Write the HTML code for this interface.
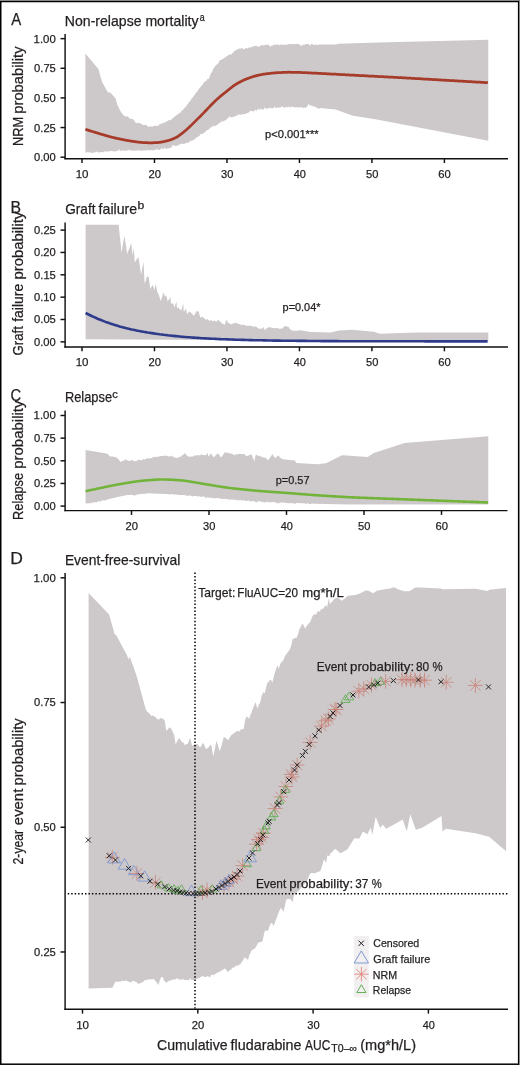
<!DOCTYPE html>
<html><head><meta charset="utf-8"><style>
html,body{margin:0;padding:0;background:#fff;}
svg{display:block;font-family:"Liberation Sans", sans-serif;will-change:transform;}
</style></head><body>
<svg xmlns="http://www.w3.org/2000/svg" width="520" height="1065" viewBox="0 0 520 1065">
<rect x="0" y="0" width="520" height="1065" fill="#fff"/>
<polygon points="85.4,53.5 98.4,69.0 99.4,72.9 102.3,82.5 108.0,92.6 110.4,92.6 115.7,98.8 117.2,104.6 120.5,111.3 124.4,116.2 127.8,116.6 129.7,118.6 132.6,119.0 134.2,120.4 136.2,123.5 137.4,122.4 138.6,123.0 139.9,123.3 141.1,123.8 142.3,124.5 143.6,125.2 144.9,124.8 146.2,125.0 147.4,125.9 148.7,127.1 150.0,126.3 151.2,126.4 152.3,127.0 153.4,125.8 154.6,126.0 155.8,125.5 156.9,125.9 158.1,126.0 159.2,124.5 160.3,124.3 161.5,123.6 162.7,123.2 163.8,122.7 165.1,122.6 166.4,121.6 167.7,121.0 168.9,120.1 170.2,120.2 171.5,119.6 172.8,118.1 174.1,117.3 175.3,115.9 176.6,114.9 177.9,114.2 179.2,113.0 180.4,112.7 181.7,110.4 182.9,110.3 184.2,108.0 185.4,107.2 186.6,105.5 187.8,104.0 189.1,101.9 190.3,100.9 191.5,98.8 192.7,97.6 193.8,95.8 195.0,94.4 196.2,92.6 197.5,91.3 198.7,89.2 200.0,87.6 201.2,86.2 202.3,84.9 203.4,83.5 204.6,81.6 206.0,81.2 207.4,78.9 208.8,78.9 210.0,75.5 211.2,73.0 212.3,71.2 213.5,68.6 214.7,67.0 215.9,65.3 217.2,64.2 218.4,63.3 219.6,60.6 220.8,59.9 222.1,59.5 223.3,58.5 224.6,57.7 225.8,57.1 227.0,56.1 228.2,55.2 229.5,54.6 230.7,54.5 231.9,54.0 233.1,52.2 234.2,51.3 235.3,50.7 236.5,49.4 237.7,49.6 238.8,48.5 240.0,48.7 241.2,48.2 242.5,48.2 243.7,49.6 245.0,48.8 246.3,47.6 247.5,48.8 248.8,47.2 250.0,47.7 251.2,47.2 252.4,46.6 253.6,46.4 254.8,46.1 256.0,45.7 257.2,46.0 258.4,47.2 259.6,46.3 260.8,45.5 262.0,45.0 263.2,45.5 264.4,45.2 265.6,44.8 266.8,44.8 268.0,44.8 269.2,45.1 270.3,47.0 271.5,45.5 272.6,45.4 273.8,45.0 274.9,44.6 276.1,44.8 277.2,44.5 278.4,44.4 279.6,45.6 280.7,44.4 281.9,44.4 283.0,44.7 284.2,44.9 285.3,44.4 286.5,44.9 287.6,44.2 288.8,43.9 290.0,43.9 291.1,44.1 292.3,44.2 293.4,44.0 294.5,43.8 295.6,44.5 296.7,43.8 297.8,43.9 298.9,44.2 300.1,44.8 301.2,46.0 302.3,45.2 303.4,44.6 304.5,45.0 305.6,44.0 306.7,44.3 307.8,44.1 308.9,44.1 310.0,45.9 311.1,44.0 312.2,44.3 313.4,44.6 314.5,45.2 315.6,44.2 316.7,44.9 317.8,45.0 318.9,44.6 320.0,44.5 335.6,44.5 339.0,43.8 378.8,42.5 488.3,39.7 488.3,140.8 375.4,119.3 352.9,115.8 335.6,109.6 320.0,108.0 319.0,109.0 318.1,108.3 317.1,108.2 316.2,107.6 315.2,106.4 314.2,107.1 313.3,105.8 312.3,106.3 311.4,105.5 310.4,105.2 309.5,105.4 308.5,103.6 307.4,106.4 306.2,107.5 305.3,107.8 304.3,107.4 303.4,107.7 302.5,107.8 301.6,107.4 300.6,107.1 299.7,107.3 298.8,107.5 297.9,107.5 296.9,107.0 296.0,107.6 295.1,107.6 294.2,107.2 293.2,106.7 292.3,107.0 291.4,106.5 290.5,107.3 289.6,107.4 288.6,106.4 287.7,107.2 286.8,106.8 285.8,107.2 284.9,107.5 284.0,107.4 283.1,107.6 282.1,106.1 281.2,107.3 280.3,107.3 279.4,107.4 278.4,108.0 277.5,107.2 276.6,108.0 275.7,108.1 274.8,106.3 273.8,107.8 272.9,108.2 272.0,108.3 271.1,108.2 270.1,107.5 269.2,108.0 268.3,108.4 267.4,108.6 266.4,108.5 265.5,108.8 264.6,107.0 263.7,109.4 262.8,109.4 261.8,109.7 260.9,108.2 260.0,109.7 259.1,109.8 258.2,108.7 257.2,109.9 256.3,110.7 255.4,109.6 254.5,111.0 253.6,110.9 252.6,111.8 251.7,110.9 250.8,110.6 249.9,111.5 249.0,112.1 248.0,113.3 247.1,113.0 246.2,113.3 245.2,113.9 244.1,114.1 243.1,114.4 242.1,114.1 241.0,114.7 240.0,114.8 239.1,114.6 238.2,114.2 237.3,115.8 236.4,115.8 235.5,115.8 234.6,116.5 233.7,116.8 232.8,117.1 231.9,117.2 231.0,117.3 230.1,117.6 229.2,116.0 228.1,118.5 227.1,118.6 226.1,120.5 225.0,120.0 224.1,121.4 223.2,121.2 222.3,121.3 221.4,121.5 220.5,122.5 219.6,122.8 218.7,123.5 217.7,124.5 216.8,125.1 215.8,125.8 214.8,126.0 213.9,126.2 212.9,125.4 211.9,127.2 210.9,127.2 210.0,128.1 209.1,129.3 208.1,129.7 207.1,130.3 206.1,131.1 205.2,132.1 204.2,132.6 203.2,133.4 202.3,133.9 201.3,134.2 200.4,134.1 199.4,135.9 198.4,136.2 197.5,137.5 196.5,137.3 195.6,138.6 194.6,139.3 193.6,139.9 192.7,140.2 191.7,140.9 190.8,140.6 189.8,141.4 188.8,142.6 187.9,142.8 186.9,142.7 185.9,143.3 185.0,143.5 184.0,144.0 183.1,143.9 182.1,143.4 181.2,143.7 180.2,144.3 179.2,144.8 178.3,145.4 177.3,145.6 176.4,145.9 175.4,146.0 174.4,145.5 173.3,145.6 172.3,145.3 171.3,147.8 170.2,148.0 169.2,148.0 168.2,148.8 167.3,148.5 166.3,149.1 165.4,148.7 164.4,147.2 163.4,149.5 162.5,149.1 161.5,147.8 160.6,149.5 159.6,150.0 158.6,149.8 157.7,149.5 156.7,149.0 155.8,149.8 154.8,150.0 153.8,150.3 152.9,150.5 151.9,150.0 151.0,150.3 150.0,150.6 149.1,149.7 148.1,150.6 147.2,149.8 146.2,150.6 145.3,150.4 144.3,150.4 143.4,150.6 142.4,150.8 141.5,150.7 140.5,150.4 139.6,150.4 138.6,150.5 137.7,149.9 136.8,150.7 135.8,150.8 134.9,150.4 133.9,150.5 133.0,150.8 132.1,150.8 131.1,150.4 130.2,150.2 129.2,150.3 128.3,149.6 127.3,150.9 126.4,150.1 125.5,150.9 124.5,151.0 123.6,150.3 122.6,150.4 121.7,150.6 120.8,151.1 119.8,151.0 118.9,148.7 117.9,150.9 117.0,151.1 116.1,151.0 115.1,151.4 114.2,151.5 113.3,151.6 112.3,151.0 111.4,151.1 110.5,150.8 109.5,151.4 108.6,151.3 107.7,151.5 106.7,152.0 105.8,151.1 104.9,151.3 103.9,152.3 103.0,152.3 102.1,152.0 101.1,152.1 100.2,152.6 99.3,152.1 98.4,152.7 97.4,151.8 96.5,151.4 95.6,152.7 94.7,151.5 93.7,152.8 92.8,152.9 91.9,153.0 91.0,152.5 90.0,152.0 89.1,152.9 88.2,151.6 87.3,152.6 86.3,152.5 85.4,153.0" fill="#cdc9ca"/>
<polyline points="85.4,129.3 85.9,129.5 86.4,129.6 86.9,129.8 87.4,129.9 87.9,130.1 88.4,130.3 88.9,130.4 89.4,130.6 89.9,130.7 90.4,130.9 90.9,131.0 91.4,131.2 91.9,131.4 92.4,131.5 92.9,131.7 93.4,131.8 93.9,132.0 94.4,132.1 94.9,132.3 95.4,132.4 95.9,132.6 96.4,132.7 96.9,132.9 97.4,133.0 97.9,133.2 98.4,133.3 98.9,133.5 99.4,133.7 99.9,133.8 100.4,134.0 100.9,134.1 101.4,134.3 101.9,134.4 102.4,134.5 102.9,134.7 103.4,134.8 103.9,135.0 104.4,135.1 104.9,135.3 105.4,135.4 105.9,135.6 106.4,135.7 106.9,135.8 107.4,136.0 107.9,136.1 108.4,136.3 108.9,136.4 109.4,136.5 109.9,136.7 110.4,136.8 110.9,137.0 111.4,137.1 111.9,137.2 112.4,137.3 112.9,137.5 113.4,137.6 113.9,137.7 114.4,137.8 114.9,137.9 115.4,138.1 115.9,138.2 116.4,138.3 116.9,138.4 117.4,138.5 117.9,138.6 118.4,138.7 118.9,138.8 119.4,138.9 119.9,139.0 120.4,139.1 120.9,139.2 121.4,139.3 121.9,139.4 122.4,139.5 122.9,139.6 123.4,139.7 123.9,139.8 124.4,139.9 124.9,140.0 125.4,140.1 125.9,140.2 126.4,140.3 126.9,140.4 127.4,140.5 127.9,140.6 128.4,140.6 128.9,140.7 129.4,140.8 129.9,140.9 130.4,141.0 130.9,141.1 131.4,141.1 131.9,141.2 132.4,141.3 132.9,141.4 133.4,141.4 133.9,141.5 134.4,141.6 134.9,141.6 135.4,141.7 135.9,141.8 136.4,141.8 136.9,141.9 137.4,142.0 137.9,142.0 138.4,142.1 138.9,142.1 139.4,142.2 139.9,142.3 140.4,142.3 140.9,142.4 141.4,142.4 141.9,142.4 142.4,142.5 142.9,142.5 143.4,142.5 143.9,142.6 144.4,142.6 144.9,142.6 145.4,142.7 145.9,142.7 146.4,142.7 146.9,142.7 147.4,142.7 147.9,142.8 148.4,142.8 148.9,142.8 149.4,142.8 149.9,142.8 150.4,142.8 150.9,142.8 151.4,142.8 151.9,142.8 152.4,142.8 152.9,142.8 153.4,142.7 153.9,142.7 154.4,142.7 154.9,142.7 155.4,142.6 155.9,142.6 156.4,142.6 156.9,142.5 157.4,142.5 157.9,142.5 158.4,142.4 158.9,142.4 159.4,142.3 159.9,142.3 160.4,142.2 160.9,142.1 161.4,142.1 161.9,142.0 162.4,141.9 162.9,141.8 163.4,141.7 163.9,141.6 164.4,141.5 164.9,141.3 165.4,141.2 165.9,141.1 166.4,141.0 166.9,140.9 167.4,140.7 167.9,140.6 168.4,140.5 168.9,140.3 169.4,140.2 169.9,140.0 170.4,139.9 170.9,139.7 171.4,139.5 171.9,139.3 172.4,139.1 172.9,138.9 173.4,138.7 173.9,138.5 174.4,138.3 174.9,138.0 175.4,137.8 175.9,137.5 176.4,137.3 176.9,137.0 177.4,136.7 177.9,136.4 178.4,136.0 178.9,135.7 179.4,135.3 179.9,135.0 180.4,134.6 180.9,134.2 181.4,133.8 181.9,133.5 182.4,133.1 182.9,132.7 183.4,132.3 183.9,131.9 184.4,131.4 184.9,131.0 185.4,130.6 185.9,130.2 186.4,129.7 186.9,129.3 187.4,128.9 187.9,128.4 188.4,127.9 188.9,127.5 189.4,127.0 189.9,126.5 190.4,126.1 190.9,125.6 191.4,125.1 191.9,124.6 192.4,124.1 192.9,123.6 193.4,123.1 193.9,122.6 194.4,122.1 194.9,121.6 195.4,121.1 195.9,120.6 196.4,120.1 196.9,119.6 197.4,119.1 197.9,118.6 198.4,118.1 198.9,117.6 199.4,117.2 199.9,116.7 200.4,116.2 200.9,115.7 201.4,115.1 201.9,114.6 202.4,114.1 202.9,113.6 203.4,113.1 203.9,112.6 204.4,112.1 204.9,111.5 205.4,111.0 205.9,110.5 206.4,110.0 206.9,109.5 207.4,108.9 207.9,108.4 208.4,107.9 208.9,107.4 209.4,106.9 209.9,106.3 210.4,105.8 210.9,105.3 211.4,104.8 211.9,104.3 212.4,103.8 212.9,103.3 213.4,102.8 213.9,102.3 214.4,101.8 214.9,101.3 215.4,100.8 215.9,100.4 216.4,99.9 216.9,99.4 217.4,99.0 217.9,98.5 218.4,98.1 218.9,97.6 219.4,97.2 219.9,96.8 220.4,96.3 220.9,95.9 221.4,95.5 221.9,95.1 222.4,94.7 222.9,94.3 223.4,93.9 223.9,93.5 224.4,93.1 224.9,92.7 225.4,92.3 225.9,91.9 226.4,91.5 226.9,91.1 227.4,90.7 227.9,90.3 228.4,89.9 228.9,89.5 229.4,89.1 229.9,88.7 230.4,88.3 230.9,87.9 231.4,87.5 231.9,87.1 232.4,86.7 232.9,86.3 233.4,86.0 233.9,85.6 234.4,85.2 234.9,84.9 235.4,84.6 235.9,84.3 236.4,84.0 236.9,83.7 237.4,83.4 237.9,83.1 238.4,82.8 238.9,82.6 239.4,82.3 239.9,82.1 240.4,81.8 240.9,81.5 241.4,81.3 241.9,81.0 242.4,80.8 242.9,80.5 243.4,80.3 243.9,80.0 244.4,79.8 244.9,79.6 245.4,79.4 245.9,79.2 246.4,79.0 246.9,78.8 247.4,78.6 247.9,78.4 248.4,78.2 248.9,78.0 249.4,77.9 249.9,77.7 250.4,77.5 250.9,77.3 251.4,77.2 251.9,77.0 252.4,76.8 252.9,76.7 253.4,76.5 253.9,76.3 254.4,76.2 254.9,76.1 255.4,75.9 255.9,75.8 256.4,75.7 256.9,75.6 257.4,75.4 257.9,75.3 258.4,75.2 258.9,75.1 259.4,75.0 259.9,74.9 260.4,74.8 260.9,74.7 261.4,74.6 261.9,74.5 262.4,74.4 262.9,74.3 263.4,74.2 263.9,74.2 264.4,74.1 264.9,74.0 265.4,73.9 265.9,73.8 266.4,73.8 266.9,73.7 267.4,73.6 267.9,73.6 268.4,73.5 268.9,73.5 269.4,73.4 269.9,73.4 270.4,73.3 270.9,73.3 271.4,73.2 271.9,73.1 272.4,73.1 272.9,73.0 273.4,73.0 273.9,72.9 274.4,72.9 274.9,72.9 275.4,72.8 275.9,72.8 276.4,72.8 276.9,72.7 277.4,72.7 277.9,72.7 278.4,72.6 278.9,72.6 279.4,72.6 279.9,72.6 280.4,72.5 280.9,72.5 281.4,72.5 281.9,72.5 282.4,72.4 282.9,72.4 283.4,72.4 283.9,72.4 284.4,72.3 284.9,72.3 285.4,72.3 285.9,72.3 286.4,72.3 286.9,72.3 287.4,72.3 287.9,72.2 288.4,72.2 288.9,72.2 289.4,72.2 289.9,72.3 290.4,72.3 290.9,72.3 291.4,72.3 291.9,72.3 292.4,72.3 292.9,72.3 293.4,72.3 293.9,72.3 294.4,72.3 294.9,72.3 295.4,72.3 295.9,72.3 296.4,72.3 296.9,72.4 297.4,72.4 297.9,72.4 298.4,72.4 298.9,72.4 299.4,72.4 299.9,72.4 300.4,72.4 300.9,72.5 301.4,72.5 301.9,72.5 302.4,72.5 302.9,72.5 303.4,72.6 303.9,72.6 304.4,72.6 304.9,72.6 305.4,72.7 305.9,72.7 306.4,72.7 306.9,72.7 307.4,72.8 307.9,72.8 308.4,72.8 308.9,72.8 309.4,72.9 309.9,72.9 310.4,72.9 310.9,72.9 311.4,73.0 311.9,73.0 312.4,73.0 312.9,73.0 313.4,73.1 313.9,73.1 314.4,73.1 314.9,73.1 315.4,73.2 315.9,73.2 316.4,73.2 316.9,73.2 317.4,73.3 317.9,73.3 318.4,73.3 318.9,73.3 319.4,73.4 319.9,73.4 320.4,73.4 320.9,73.4 321.4,73.5 321.9,73.5 322.4,73.5 322.9,73.6 323.4,73.6 323.9,73.6 324.4,73.6 324.9,73.7 325.4,73.7 325.9,73.7 326.4,73.7 326.9,73.8 327.4,73.8 327.9,73.8 328.4,73.8 328.9,73.9 329.4,73.9 329.9,73.9 330.4,74.0 330.9,74.0 331.4,74.0 331.9,74.0 332.4,74.1 332.9,74.1 333.4,74.1 333.9,74.1 334.4,74.2 334.9,74.2 335.4,74.2 335.9,74.2 336.4,74.3 336.9,74.3 337.4,74.3 337.9,74.4 338.4,74.4 338.9,74.4 339.4,74.4 339.9,74.5 340.4,74.5 340.9,74.5 341.4,74.5 341.9,74.6 342.4,74.6 342.9,74.6 343.4,74.6 343.9,74.7 344.4,74.7 344.9,74.7 345.4,74.8 345.9,74.8 346.4,74.8 346.9,74.8 347.4,74.9 347.9,74.9 348.4,74.9 348.9,74.9 349.4,75.0 349.9,75.0 350.4,75.0 350.9,75.0 351.4,75.1 351.9,75.1 352.4,75.1 352.9,75.2 353.4,75.2 353.9,75.2 354.4,75.2 354.9,75.3 355.4,75.3 355.9,75.3 356.4,75.3 356.9,75.4 357.4,75.4 357.9,75.4 358.4,75.4 358.9,75.5 359.4,75.5 359.9,75.5 360.4,75.5 360.9,75.6 361.4,75.6 361.9,75.6 362.4,75.6 362.9,75.7 363.4,75.7 363.9,75.7 364.4,75.7 364.9,75.8 365.4,75.8 365.9,75.8 366.4,75.9 366.9,75.9 367.4,75.9 367.9,75.9 368.4,76.0 368.9,76.0 369.4,76.0 369.9,76.0 370.4,76.1 370.9,76.1 371.4,76.1 371.9,76.1 372.4,76.2 372.9,76.2 373.4,76.2 373.9,76.2 374.4,76.3 374.9,76.3 375.4,76.3 375.9,76.3 376.4,76.4 376.9,76.4 377.4,76.4 377.9,76.5 378.4,76.5 378.9,76.5 379.4,76.5 379.9,76.6 380.4,76.6 380.9,76.6 381.4,76.6 381.9,76.7 382.4,76.7 382.9,76.7 383.4,76.7 383.9,76.8 384.4,76.8 384.9,76.8 385.4,76.8 385.9,76.9 386.4,76.9 386.9,76.9 387.4,76.9 387.9,77.0 388.4,77.0 388.9,77.0 389.4,77.0 389.9,77.1 390.4,77.1 390.9,77.1 391.4,77.2 391.9,77.2 392.4,77.2 392.9,77.2 393.4,77.3 393.9,77.3 394.4,77.3 394.9,77.3 395.4,77.4 395.9,77.4 396.4,77.4 396.9,77.4 397.4,77.5 397.9,77.5 398.4,77.5 398.9,77.5 399.4,77.6 399.9,77.6 400.4,77.6 400.9,77.7 401.4,77.7 401.9,77.7 402.4,77.7 402.9,77.8 403.4,77.8 403.9,77.8 404.4,77.9 404.9,77.9 405.4,77.9 405.9,77.9 406.4,78.0 406.9,78.0 407.4,78.0 407.9,78.1 408.4,78.1 408.9,78.1 409.4,78.1 409.9,78.2 410.4,78.2 410.9,78.2 411.4,78.3 411.9,78.3 412.4,78.3 412.9,78.3 413.4,78.4 413.9,78.4 414.4,78.4 414.9,78.5 415.4,78.5 415.9,78.5 416.4,78.5 416.9,78.6 417.4,78.6 417.9,78.6 418.4,78.7 418.9,78.7 419.4,78.7 419.9,78.7 420.4,78.8 420.9,78.8 421.4,78.8 421.9,78.9 422.4,78.9 422.9,78.9 423.4,79.0 423.9,79.0 424.4,79.0 424.9,79.0 425.4,79.1 425.9,79.1 426.4,79.1 426.9,79.2 427.4,79.2 427.9,79.2 428.4,79.2 428.9,79.3 429.4,79.3 429.9,79.3 430.4,79.4 430.9,79.4 431.4,79.4 431.9,79.4 432.4,79.5 432.9,79.5 433.4,79.5 433.9,79.6 434.4,79.6 434.9,79.6 435.4,79.6 435.9,79.7 436.4,79.7 436.9,79.7 437.4,79.8 437.9,79.8 438.4,79.8 438.9,79.8 439.4,79.9 439.9,79.9 440.4,79.9 440.9,80.0 441.4,80.0 441.9,80.0 442.4,80.0 442.9,80.1 443.4,80.1 443.9,80.1 444.4,80.2 444.9,80.2 445.4,80.2 445.9,80.3 446.4,80.3 446.9,80.3 447.4,80.3 447.9,80.4 448.4,80.4 448.9,80.4 449.4,80.5 449.9,80.5 450.4,80.5 450.9,80.5 451.4,80.6 451.9,80.6 452.4,80.6 452.9,80.7 453.4,80.7 453.9,80.7 454.4,80.7 454.9,80.8 455.4,80.8 455.9,80.8 456.4,80.9 456.9,80.9 457.4,80.9 457.9,80.9 458.4,81.0 458.9,81.0 459.4,81.0 459.9,81.1 460.4,81.1 460.9,81.1 461.4,81.1 461.9,81.2 462.4,81.2 462.9,81.2 463.4,81.3 463.9,81.3 464.4,81.3 464.9,81.3 465.4,81.4 465.9,81.4 466.4,81.4 466.9,81.5 467.4,81.5 467.9,81.5 468.4,81.6 468.9,81.6 469.4,81.6 469.9,81.6 470.4,81.7 470.9,81.7 471.4,81.7 471.9,81.8 472.4,81.8 472.9,81.8 473.4,81.8 473.9,81.9 474.4,81.9 474.9,81.9 475.4,82.0 475.9,82.0 476.4,82.0 476.9,82.0 477.4,82.1 477.9,82.1 478.4,82.1 478.9,82.2 479.4,82.2 479.9,82.2 480.4,82.2 480.9,82.3 481.4,82.3 481.9,82.3 482.4,82.4 482.9,82.4 483.4,82.4 483.9,82.4 484.4,82.5 484.9,82.5 485.4,82.5 485.9,82.6 486.4,82.6 486.9,82.6 487.4,82.6 487.9,82.7" fill="none" stroke="#a63b2a" stroke-width="2.75" stroke-linejoin="round"/>
<line x1="65.1" y1="34" x2="65.1" y2="159.35" stroke="#111" stroke-width="1.45"/>
<line x1="64.44999999999999" y1="158.7" x2="508" y2="158.7" stroke="#111" stroke-width="1.45"/>
<line x1="60.49999999999999" y1="38.64999999999999" x2="65.1" y2="38.64999999999999" stroke="#111" stroke-width="1.45"/>
<text x="33.61" y="42.6" text-anchor="start" font-size="11.6" textLength="22.21" lengthAdjust="spacingAndGlyphs" fill="#231f20" stroke="#231f20" stroke-width="0.25">1.00</text>
<line x1="60.49999999999999" y1="68.2875" x2="65.1" y2="68.2875" stroke="#111" stroke-width="1.45"/>
<text x="34.07" y="72.24" text-anchor="start" font-size="11.6" textLength="21.8" lengthAdjust="spacingAndGlyphs" fill="#231f20" stroke="#231f20" stroke-width="0.25">0.75</text>
<line x1="60.49999999999999" y1="97.92499999999998" x2="65.1" y2="97.92499999999998" stroke="#111" stroke-width="1.45"/>
<text x="34.07" y="101.87" text-anchor="start" font-size="11.6" textLength="21.74" lengthAdjust="spacingAndGlyphs" fill="#231f20" stroke="#231f20" stroke-width="0.25">0.50</text>
<line x1="60.49999999999999" y1="127.56249999999999" x2="65.1" y2="127.56249999999999" stroke="#111" stroke-width="1.45"/>
<text x="34.07" y="131.51" text-anchor="start" font-size="11.6" textLength="21.8" lengthAdjust="spacingAndGlyphs" fill="#231f20" stroke="#231f20" stroke-width="0.25">0.25</text>
<line x1="60.49999999999999" y1="157.2" x2="65.1" y2="157.2" stroke="#111" stroke-width="1.45"/>
<text x="34.07" y="161.15" text-anchor="start" font-size="11.6" textLength="21.74" lengthAdjust="spacingAndGlyphs" fill="#231f20" stroke="#231f20" stroke-width="0.25">0.00</text>
<line x1="82.0" y1="158.7" x2="82.0" y2="163.0" stroke="#111" stroke-width="1.45"/>
<text x="75.65" y="177.7" text-anchor="start" font-size="11.6" textLength="12.85" lengthAdjust="spacingAndGlyphs" fill="#231f20" stroke="#231f20" stroke-width="0.25">10</text>
<line x1="154.48000000000002" y1="158.7" x2="154.48000000000002" y2="163.0" stroke="#111" stroke-width="1.45"/>
<text x="148.45" y="177.7" text-anchor="start" font-size="11.6" textLength="12.52" lengthAdjust="spacingAndGlyphs" fill="#231f20" stroke="#231f20" stroke-width="0.25">20</text>
<line x1="226.96" y1="158.7" x2="226.96" y2="163.0" stroke="#111" stroke-width="1.45"/>
<text x="221.08" y="177.7" text-anchor="start" font-size="11.6" textLength="12.37" lengthAdjust="spacingAndGlyphs" fill="#231f20" stroke="#231f20" stroke-width="0.25">30</text>
<line x1="299.44" y1="158.7" x2="299.44" y2="163.0" stroke="#111" stroke-width="1.45"/>
<text x="293.75" y="177.7" text-anchor="start" font-size="11.6" textLength="12.16" lengthAdjust="spacingAndGlyphs" fill="#231f20" stroke="#231f20" stroke-width="0.25">40</text>
<line x1="371.92" y1="158.7" x2="371.92" y2="163.0" stroke="#111" stroke-width="1.45"/>
<text x="366.04" y="177.7" text-anchor="start" font-size="11.6" textLength="12.37" lengthAdjust="spacingAndGlyphs" fill="#231f20" stroke="#231f20" stroke-width="0.25">50</text>
<line x1="444.40000000000003" y1="158.7" x2="444.40000000000003" y2="163.0" stroke="#111" stroke-width="1.45"/>
<text x="438.37" y="177.7" text-anchor="start" font-size="11.6" textLength="12.52" lengthAdjust="spacingAndGlyphs" fill="#231f20" stroke="#231f20" stroke-width="0.25">60</text>
<text x="11.15" y="24.8" text-anchor="start" font-size="16.5" textLength="10.0" lengthAdjust="spacingAndGlyphs" fill="#231f20" stroke="#231f20" stroke-width="0.25">A</text>
<text x="64.86" y="25.7" text-anchor="start" font-size="14.2" textLength="133.69" lengthAdjust="spacingAndGlyphs" fill="#231f20" stroke="#231f20" stroke-width="0.25">Non-relapse mortality</text>
<text x="199.8" y="20.6" text-anchor="start" font-size="10" textLength="4.91" lengthAdjust="spacingAndGlyphs" fill="#231f20" stroke="#231f20" stroke-width="0.25">a</text>
<text transform="translate(22.9,146.04) rotate(-90)" text-anchor="start" font-size="14.2" textLength="29.1" lengthAdjust="spacingAndGlyphs" fill="#231f20" stroke="#231f20" stroke-width="0.25">NRM</text>
<text transform="translate(22.9,113.74) rotate(-90)" text-anchor="start" font-size="14.2" textLength="67.36" lengthAdjust="spacingAndGlyphs" fill="#231f20" stroke="#231f20" stroke-width="0.25">probability</text>
<text x="265.07" y="137.8" text-anchor="start" font-size="10.6" textLength="53.53" lengthAdjust="spacingAndGlyphs" fill="#231f20" stroke="#231f20" stroke-width="0.25">p&lt;0.001***</text>
<polygon points="85.6,224.8 118.7,224.8 119.6,234.2 120.6,243.1 121.5,252.7 122.5,246.7 123.4,241.3 124.4,236.1 125.4,241.9 126.3,247.8 127.3,253.9 128.1,251.6 128.9,249.6 129.7,247.6 130.5,245.0 131.3,242.9 132.5,255.5 133.7,247.8 134.8,262.6 135.7,261.0 136.6,259.6 137.4,258.2 138.3,257.1 139.3,262.4 140.2,269.1 141.2,274.5 142.3,267.7 143.5,261.8 144.6,283.5 145.8,280.5 146.9,276.3 147.8,276.8 148.7,276.9 149.6,283.4 150.4,288.9 151.6,286.7 152.7,285.0 153.6,287.3 154.4,290.5 155.6,283.9 156.4,287.6 157.3,292.3 158.2,293.5 159.1,295.7 159.9,298.3 160.8,301.2 161.8,297.8 162.7,295.0 163.7,292.6 165.0,296.8 166.3,295.1 167.7,301.6 168.6,300.0 169.5,298.4 170.4,296.9 171.1,304.1 172.1,303.5 173.1,302.9 174.4,307.8 175.4,304.3 176.4,301.6 177.1,308.3 178.5,307.6 179.4,308.9 180.3,309.3 181.2,310.8 182.2,306.9 183.2,303.5 183.8,312.0 184.9,310.2 185.9,308.6 187.2,314.5 188.2,312.5 189.2,311.6 190.2,312.1 191.2,313.0 192.1,313.6 193.0,314.9 193.9,315.8 194.8,314.2 195.7,312.8 196.6,311.1 197.6,311.3 198.6,311.6 199.6,315.3 200.7,317.9 202.0,316.7 202.8,317.0 203.7,317.7 204.6,318.8 205.4,319.2 206.3,320.0 207.2,319.0 208.1,319.6 209.4,321.0 210.8,320.0 211.7,320.6 212.6,321.5 213.4,320.6 214.3,320.7 215.2,321.0 216.1,322.0 217.1,320.8 218.2,320.1 219.1,320.8 220.1,321.8 221.0,322.3 222.0,323.2 222.9,323.9 223.9,324.3 224.9,324.7 226.2,319.5 227.2,321.3 228.3,322.8 229.2,323.2 230.0,324.0 230.9,324.4 231.8,323.9 232.7,324.0 233.6,322.8 234.5,323.5 235.4,323.0 236.3,322.7 237.2,323.4 238.1,323.9 238.9,324.1 239.7,324.2 240.5,324.2 241.3,325.2 242.1,324.6 243.0,325.0 243.8,325.0 244.6,325.1 245.4,325.1 246.2,326.3 247.1,325.4 247.9,325.8 248.8,325.8 249.6,325.7 250.5,325.7 251.3,325.8 252.2,325.8 253.0,327.4 253.9,326.0 254.7,326.3 255.6,326.9 256.4,326.8 257.2,327.4 258.1,327.9 258.9,329.1 259.8,328.6 260.6,328.7 261.4,328.6 262.3,328.7 263.4,327.1 264.2,328.5 265.0,330.5 265.8,328.8 266.6,328.4 267.4,327.8 268.2,327.5 269.0,327.2 269.9,327.6 270.8,327.3 271.7,327.7 272.6,327.9 273.5,327.8 274.4,328.5 275.2,328.1 276.1,328.1 276.9,328.3 277.8,328.3 278.6,328.4 279.4,328.7 280.3,328.7 281.1,328.5 282.0,328.8 282.9,327.4 283.8,327.0 284.7,326.6 285.6,325.9 286.5,325.9 287.4,327.1 288.3,326.7 289.2,327.7 290.1,329.8 291.0,329.2 291.9,331.3 292.7,330.1 293.5,330.6 294.3,331.0 295.1,330.7 295.9,330.8 296.7,330.9 297.5,330.5 298.4,330.4 299.2,330.5 300.0,330.2 310.4,331.9 330.6,332.5 339.2,330.5 352.3,329.8 373.8,331.7 380.0,333.8 416.9,332.6 488.3,332.6 488.3,341.3 85.6,339.3" fill="#cdc9ca"/>
<polyline points="85.6,313.0 87.6,314.0 89.6,315.0 91.6,316.0 93.6,316.9 95.6,317.8 97.6,318.7 99.6,319.5 101.6,320.3 103.6,321.1 105.6,321.9 107.6,322.6 109.6,323.3 111.6,323.9 113.6,324.6 115.6,325.2 117.6,325.8 119.6,326.4 121.6,326.9 123.6,327.4 125.6,328.0 127.6,328.4 129.6,328.9 131.6,329.4 133.6,329.8 135.6,330.2 137.6,330.7 139.6,331.0 141.6,331.4 143.6,331.8 145.6,332.1 147.6,332.5 149.6,332.8 151.6,333.1 153.6,333.4 155.6,333.7 157.6,334.0 159.6,334.3 161.6,334.5 163.6,334.8 165.6,335.0 167.6,335.3 169.6,335.5 171.6,335.7 173.6,335.9 175.6,336.1 177.6,336.3 179.6,336.5 181.6,336.7 183.6,336.9 185.6,337.0 187.6,337.2 189.6,337.3 191.6,337.5 193.6,337.6 195.6,337.8 197.6,337.9 199.6,338.0 201.6,338.2 203.6,338.3 205.6,338.4 207.6,338.5 209.6,338.6 211.6,338.7 213.6,338.8 215.6,338.9 217.6,339.0 219.6,339.1 221.6,339.2 223.6,339.2 225.6,339.3 227.6,339.4 229.6,339.5 231.6,339.5 233.6,339.6 235.6,339.7 237.6,339.7 239.6,339.8 241.6,339.9 243.6,339.9 245.6,340.0 247.6,340.0 249.6,340.1 251.6,340.1 253.6,340.2 255.6,340.2 257.6,340.3 259.6,340.3 261.6,340.3 263.6,340.4 265.6,340.4 267.6,340.5 269.6,340.5 271.6,340.5 273.6,340.6 275.6,340.6 277.6,340.6 279.6,340.6 281.6,340.7 283.6,340.7 285.6,340.7 287.6,340.7 289.6,340.8 291.6,340.8 293.6,340.8 295.6,340.8 297.6,340.9 299.6,340.9 301.6,340.9 303.6,340.9 305.6,340.9 307.6,341.0 309.6,341.0 311.6,341.0 313.6,341.0 315.6,341.0 317.6,341.0 319.6,341.0 321.6,341.1 323.6,341.1 325.6,341.1 327.6,341.1 329.6,341.1 331.6,341.1 333.6,341.1 335.6,341.1 337.6,341.1 339.6,341.2 341.6,341.2 343.6,341.2 345.6,341.2 347.6,341.2 349.6,341.2 351.6,341.2 353.6,341.2 355.6,341.2 357.6,341.2 359.6,341.2 361.6,341.2 363.6,341.2 365.6,341.2 367.6,341.3 369.6,341.3 371.6,341.3 373.6,341.3 375.6,341.3 377.6,341.3 379.6,341.3 381.6,341.3 383.6,341.3 385.6,341.3 387.6,341.3 389.6,341.3 391.6,341.3 393.6,341.3 395.6,341.3 397.6,341.3 399.6,341.3 401.6,341.3 403.6,341.3 405.6,341.3 407.6,341.3 409.6,341.3 411.6,341.3 413.6,341.3 415.6,341.3 417.6,341.3 419.6,341.3 421.6,341.3 423.6,341.3 425.6,341.4 427.6,341.4 429.6,341.4 431.6,341.4 433.6,341.4 435.6,341.4 437.6,341.4 439.6,341.4 441.6,341.4 443.6,341.4 445.6,341.4 447.6,341.4 449.6,341.4 451.6,341.4 453.6,341.4 455.6,341.4 457.6,341.4 459.6,341.4 461.6,341.4 463.6,341.4 465.6,341.4 467.6,341.4 469.6,341.4 471.6,341.4 473.6,341.4 475.6,341.4 477.6,341.4 479.6,341.4 481.6,341.4 483.6,341.4 485.6,341.4 487.6,341.4" fill="none" stroke="#2e3b8b" stroke-width="2.6" stroke-linejoin="round"/>
<line x1="65.1" y1="222.4" x2="65.1" y2="347.65" stroke="#111" stroke-width="1.45"/>
<line x1="64.44999999999999" y1="347" x2="508" y2="347" stroke="#111" stroke-width="1.45"/>
<line x1="60.49999999999999" y1="230.10000000000002" x2="65.1" y2="230.10000000000002" stroke="#111" stroke-width="1.45"/>
<text x="34.07" y="234.05" text-anchor="start" font-size="11.6" textLength="21.8" lengthAdjust="spacingAndGlyphs" fill="#231f20" stroke="#231f20" stroke-width="0.25">0.25</text>
<line x1="60.49999999999999" y1="252.45000000000002" x2="65.1" y2="252.45000000000002" stroke="#111" stroke-width="1.45"/>
<text x="34.07" y="256.4" text-anchor="start" font-size="11.6" textLength="21.74" lengthAdjust="spacingAndGlyphs" fill="#231f20" stroke="#231f20" stroke-width="0.25">0.20</text>
<line x1="60.49999999999999" y1="274.8" x2="65.1" y2="274.8" stroke="#111" stroke-width="1.45"/>
<text x="34.07" y="278.75" text-anchor="start" font-size="11.6" textLength="21.8" lengthAdjust="spacingAndGlyphs" fill="#231f20" stroke="#231f20" stroke-width="0.25">0.15</text>
<line x1="60.49999999999999" y1="297.15000000000003" x2="65.1" y2="297.15000000000003" stroke="#111" stroke-width="1.45"/>
<text x="34.07" y="301.1" text-anchor="start" font-size="11.6" textLength="21.74" lengthAdjust="spacingAndGlyphs" fill="#231f20" stroke="#231f20" stroke-width="0.25">0.10</text>
<line x1="60.49999999999999" y1="319.5" x2="65.1" y2="319.5" stroke="#111" stroke-width="1.45"/>
<text x="34.07" y="323.45" text-anchor="start" font-size="11.6" textLength="21.8" lengthAdjust="spacingAndGlyphs" fill="#231f20" stroke="#231f20" stroke-width="0.25">0.05</text>
<line x1="60.49999999999999" y1="341.85" x2="65.1" y2="341.85" stroke="#111" stroke-width="1.45"/>
<text x="34.07" y="345.8" text-anchor="start" font-size="11.6" textLength="21.74" lengthAdjust="spacingAndGlyphs" fill="#231f20" stroke="#231f20" stroke-width="0.25">0.00</text>
<line x1="82.0" y1="347" x2="82.0" y2="351.3" stroke="#111" stroke-width="1.45"/>
<text x="75.65" y="366.2" text-anchor="start" font-size="11.6" textLength="12.85" lengthAdjust="spacingAndGlyphs" fill="#231f20" stroke="#231f20" stroke-width="0.25">10</text>
<line x1="154.48000000000002" y1="347" x2="154.48000000000002" y2="351.3" stroke="#111" stroke-width="1.45"/>
<text x="148.45" y="366.2" text-anchor="start" font-size="11.6" textLength="12.52" lengthAdjust="spacingAndGlyphs" fill="#231f20" stroke="#231f20" stroke-width="0.25">20</text>
<line x1="226.96" y1="347" x2="226.96" y2="351.3" stroke="#111" stroke-width="1.45"/>
<text x="221.08" y="366.2" text-anchor="start" font-size="11.6" textLength="12.37" lengthAdjust="spacingAndGlyphs" fill="#231f20" stroke="#231f20" stroke-width="0.25">30</text>
<line x1="299.44" y1="347" x2="299.44" y2="351.3" stroke="#111" stroke-width="1.45"/>
<text x="293.75" y="366.2" text-anchor="start" font-size="11.6" textLength="12.16" lengthAdjust="spacingAndGlyphs" fill="#231f20" stroke="#231f20" stroke-width="0.25">40</text>
<line x1="371.92" y1="347" x2="371.92" y2="351.3" stroke="#111" stroke-width="1.45"/>
<text x="366.04" y="366.2" text-anchor="start" font-size="11.6" textLength="12.37" lengthAdjust="spacingAndGlyphs" fill="#231f20" stroke="#231f20" stroke-width="0.25">50</text>
<line x1="444.40000000000003" y1="347" x2="444.40000000000003" y2="351.3" stroke="#111" stroke-width="1.45"/>
<text x="438.37" y="366.2" text-anchor="start" font-size="11.6" textLength="12.52" lengthAdjust="spacingAndGlyphs" fill="#231f20" stroke="#231f20" stroke-width="0.25">60</text>
<text x="10.61" y="212.9" text-anchor="start" font-size="16.5" textLength="10.51" lengthAdjust="spacingAndGlyphs" fill="#231f20" stroke="#231f20" stroke-width="0.25">B</text>
<text x="65.13" y="213.8" text-anchor="start" font-size="14.2" textLength="30.38" lengthAdjust="spacingAndGlyphs" fill="#231f20" stroke="#231f20" stroke-width="0.25">Graft</text>
<text x="98.6" y="213.8" text-anchor="start" font-size="14.2" textLength="38.52" lengthAdjust="spacingAndGlyphs" fill="#231f20" stroke="#231f20" stroke-width="0.25">failure</text>
<text x="137.41" y="209.4" text-anchor="start" font-size="10" textLength="6.8" lengthAdjust="spacingAndGlyphs" fill="#231f20" stroke="#231f20" stroke-width="0.25">b</text>
<text transform="translate(23.0,355.45) rotate(-90)" text-anchor="start" font-size="14.2" textLength="29.36" lengthAdjust="spacingAndGlyphs" fill="#231f20" stroke="#231f20" stroke-width="0.25">Graft</text>
<text transform="translate(23.0,321.8) rotate(-90)" text-anchor="start" font-size="14.2" textLength="38.01" lengthAdjust="spacingAndGlyphs" fill="#231f20" stroke="#231f20" stroke-width="0.25">failure</text>
<text transform="translate(23.0,279.44) rotate(-90)" text-anchor="start" font-size="14.2" textLength="67.67" lengthAdjust="spacingAndGlyphs" fill="#231f20" stroke="#231f20" stroke-width="0.25">probability</text>
<text x="282.58" y="311.4" text-anchor="start" font-size="10.6" textLength="37.92" lengthAdjust="spacingAndGlyphs" fill="#231f20" stroke="#231f20" stroke-width="0.25">p=0.04*</text>
<polygon points="85.6,449.9 107.7,453.8 108.8,455.3 110.0,456.5 111.0,456.4 112.0,456.2 113.0,456.8 113.9,456.7 114.9,457.1 115.9,457.3 116.9,457.6 118.1,459.1 119.2,459.9 120.4,462.1 121.3,461.5 122.2,460.8 123.2,461.0 124.1,460.7 125.0,458.5 125.9,460.3 126.8,459.7 127.8,460.7 128.7,460.7 129.6,460.7 130.5,461.0 131.4,460.1 132.4,459.8 133.3,460.9 134.2,461.5 135.2,460.8 136.3,461.2 137.3,460.6 138.3,459.5 139.4,460.0 140.4,460.3 141.3,460.1 142.2,460.2 143.2,459.1 144.1,459.7 145.0,459.3 145.9,459.1 146.8,458.5 147.8,458.3 148.7,458.3 149.6,458.5 150.6,458.3 151.7,458.0 152.7,457.2 153.7,456.5 154.8,457.4 155.8,456.5 156.8,457.0 157.8,456.8 158.9,456.6 159.9,456.2 160.9,456.0 161.9,456.0 162.8,456.0 163.8,455.8 164.7,455.8 165.6,455.8 166.6,455.6 167.5,456.2 168.4,456.3 169.3,456.4 170.3,456.4 171.2,455.2 172.2,456.8 173.2,456.5 174.2,457.4 175.3,457.6 176.3,458.1 177.3,457.6 178.3,458.1 179.4,456.5 180.4,457.1 181.3,456.1 182.2,455.2 183.2,454.7 184.1,454.1 185.0,453.0 186.0,454.6 187.1,455.7 188.1,456.8 189.1,456.3 190.0,456.9 191.0,456.5 191.9,456.6 192.9,456.5 193.9,456.0 194.8,455.1 195.8,455.4 196.7,455.8 197.6,455.0 198.6,455.3 199.5,455.4 200.4,455.2 201.4,453.9 202.3,455.1 203.3,455.2 204.3,455.0 205.2,455.2 206.2,455.3 207.4,452.6 208.5,456.6 209.5,455.6 210.5,453.2 211.6,454.6 212.7,455.8 213.8,457.2 214.8,456.4 215.8,455.1 216.7,454.6 217.7,453.1 219.2,454.8 220.8,457.2 221.8,456.8 222.7,455.4 223.7,453.8 224.6,452.2 225.5,452.4 226.4,452.7 227.3,452.4 228.2,453.5 229.1,452.5 230.0,453.3 230.9,454.1 231.8,453.4 232.7,454.5 233.6,454.4 234.5,455.4 235.4,454.2 236.9,454.4 237.8,454.3 238.7,453.8 239.6,454.0 240.5,453.9 241.4,453.9 242.3,453.7 243.3,454.5 244.2,453.6 245.2,455.5 246.2,455.7 247.3,456.1 248.3,455.6 249.4,455.0 250.4,454.7 251.5,454.3 252.5,457.0 253.6,458.9 254.6,461.7 255.4,455.4 256.4,454.8 257.4,455.2 258.4,456.2 259.5,455.5 260.5,456.5 261.5,456.5 262.5,457.3 263.5,457.5 264.5,458.2 265.5,457.3 266.5,459.3 267.5,459.6 268.5,460.3 269.4,458.6 270.4,456.9 271.4,455.8 272.3,454.0 273.3,455.7 274.4,457.1 275.4,458.3 276.6,456.8 277.8,456.0 278.8,455.5 279.8,457.4 280.7,458.1 281.7,458.6 282.7,459.2 295.0,460.5 296.2,463.1 318.1,464.3 326.5,463.1 342.0,455.3 343.1,455.2 367.7,457.1 373.8,453.1 404.6,442.9 447.7,439.4 488.3,436.2 488.3,504.6 350.0,504.4 315.4,503.8 314.2,503.7 313.0,503.6 311.8,503.5 310.6,503.9 309.4,504.0 308.2,503.4 307.0,503.3 305.8,504.2 304.6,503.3 303.4,503.3 302.2,503.2 300.9,503.2 299.7,503.1 298.5,503.2 297.3,503.1 296.1,503.1 294.9,504.2 293.7,503.0 292.5,503.6 291.3,503.0 290.1,502.9 288.9,503.5 287.7,502.9 286.5,503.3 285.3,502.8 284.1,502.8 282.9,502.6 281.7,502.5 280.5,502.5 279.3,503.6 278.1,502.4 276.9,503.8 275.7,502.2 274.5,502.3 273.3,502.1 272.1,502.1 270.9,502.2 269.7,502.5 268.5,501.9 267.3,501.8 266.1,501.7 264.9,502.8 263.7,501.9 262.5,502.2 261.3,501.5 260.1,501.4 258.9,501.3 257.7,501.3 256.5,502.7 255.3,501.7 254.1,501.2 252.9,501.0 251.7,500.9 250.5,501.8 249.3,500.7 248.1,500.6 246.9,500.7 245.7,500.9 244.5,500.6 243.2,500.3 242.0,500.6 240.8,500.1 239.6,500.1 238.4,500.5 237.2,500.3 236.0,499.8 234.8,499.9 233.6,499.6 232.4,499.5 231.2,499.6 230.0,499.4 228.8,499.7 227.6,499.1 226.4,499.1 225.2,499.0 224.0,498.8 222.8,498.9 221.6,498.9 220.4,498.7 219.2,498.3 218.0,498.2 216.8,498.1 215.6,498.2 214.4,498.4 213.2,498.1 212.0,497.7 210.8,497.8 209.6,497.7 208.4,497.4 207.2,497.0 206.0,498.5 204.8,496.8 203.6,496.6 202.4,496.5 201.2,497.1 200.0,496.4 198.8,496.2 197.6,496.4 196.4,496.0 195.2,496.0 194.0,495.8 192.8,496.6 191.6,496.2 190.4,495.5 189.2,495.5 188.0,496.0 186.8,495.6 185.5,495.5 184.3,495.0 183.1,494.9 181.9,494.9 180.7,494.9 179.5,494.9 178.3,494.9 177.1,494.5 175.9,494.5 174.7,494.4 173.5,494.5 172.3,494.0 171.1,494.2 169.9,494.6 168.7,494.2 167.4,493.9 166.2,493.9 165.0,493.9 163.8,494.0 162.6,493.7 161.4,493.8 160.1,494.1 158.9,493.6 157.7,493.9 156.5,493.5 155.3,493.7 154.1,493.5 152.8,493.4 151.6,493.6 150.4,493.3 149.2,493.3 148.0,493.5 146.8,493.5 145.6,493.6 144.4,494.1 143.1,493.8 141.9,494.1 140.7,494.0 139.5,494.1 138.3,494.4 137.1,494.7 135.9,494.6 134.7,496.0 133.5,495.0 132.3,495.0 131.0,494.8 129.8,495.1 128.6,495.0 127.4,495.1 126.2,495.2 125.0,495.6 123.8,495.8 122.5,496.0 121.3,496.3 120.1,496.6 118.9,496.8 117.7,497.1 116.4,497.3 115.2,497.7 114.0,498.0 112.8,498.1 111.5,498.5 110.3,499.1 109.1,499.0 107.9,499.3 106.7,500.1 105.4,500.0 104.2,500.7 103.0,500.3 101.8,500.6 100.5,501.8 99.3,501.2 98.0,501.2 96.8,502.3 95.5,502.4 94.3,501.9 93.1,502.7 91.8,502.4 90.6,503.6 89.3,502.9 88.1,503.6 86.8,503.3 85.6,503.8" fill="#cdc9ca"/>
<polyline points="85.6,491.2 86.1,491.1 86.6,491.0 87.1,490.9 87.6,490.8 88.1,490.7 88.6,490.6 89.1,490.5 89.6,490.3 90.1,490.2 90.6,490.1 91.1,490.0 91.6,489.9 92.1,489.8 92.6,489.7 93.1,489.6 93.6,489.5 94.1,489.4 94.6,489.3 95.1,489.2 95.6,489.1 96.1,489.0 96.6,488.8 97.1,488.7 97.6,488.6 98.1,488.5 98.6,488.4 99.1,488.3 99.6,488.2 100.1,488.1 100.6,488.0 101.1,487.9 101.6,487.8 102.1,487.7 102.6,487.6 103.1,487.5 103.6,487.4 104.1,487.2 104.6,487.1 105.1,487.0 105.6,486.9 106.1,486.8 106.6,486.7 107.1,486.6 107.6,486.5 108.1,486.4 108.6,486.3 109.1,486.2 109.6,486.1 110.1,486.0 110.6,485.9 111.1,485.8 111.6,485.7 112.1,485.6 112.6,485.5 113.1,485.4 113.6,485.3 114.1,485.2 114.6,485.1 115.1,485.0 115.6,484.9 116.1,484.8 116.6,484.7 117.1,484.6 117.6,484.5 118.1,484.4 118.6,484.4 119.1,484.3 119.6,484.2 120.1,484.1 120.6,484.0 121.1,483.9 121.6,483.8 122.1,483.7 122.6,483.7 123.1,483.6 123.6,483.5 124.1,483.4 124.6,483.3 125.1,483.2 125.6,483.1 126.1,483.1 126.6,483.0 127.1,482.9 127.6,482.8 128.1,482.7 128.6,482.6 129.1,482.6 129.6,482.5 130.1,482.4 130.6,482.3 131.1,482.2 131.6,482.2 132.1,482.1 132.6,482.0 133.1,481.9 133.6,481.8 134.1,481.8 134.6,481.7 135.1,481.6 135.6,481.6 136.1,481.5 136.6,481.4 137.1,481.3 137.6,481.3 138.1,481.2 138.6,481.2 139.1,481.1 139.6,481.0 140.1,481.0 140.6,480.9 141.1,480.9 141.6,480.8 142.1,480.8 142.6,480.7 143.1,480.7 143.6,480.6 144.1,480.6 144.6,480.5 145.1,480.5 145.6,480.5 146.1,480.4 146.6,480.4 147.1,480.3 147.6,480.3 148.1,480.2 148.6,480.2 149.1,480.2 149.6,480.1 150.1,480.1 150.6,480.0 151.1,480.0 151.6,480.0 152.1,479.9 152.6,479.9 153.1,479.9 153.6,479.8 154.1,479.8 154.6,479.7 155.1,479.7 155.6,479.7 156.1,479.6 156.6,479.6 157.1,479.6 157.6,479.6 158.1,479.5 158.6,479.5 159.1,479.5 159.6,479.5 160.1,479.5 160.6,479.5 161.1,479.5 161.6,479.5 162.1,479.5 162.6,479.5 163.1,479.5 163.6,479.5 164.1,479.5 164.6,479.5 165.1,479.5 165.6,479.5 166.1,479.5 166.6,479.5 167.1,479.6 167.6,479.6 168.1,479.6 168.6,479.6 169.1,479.6 169.6,479.7 170.1,479.7 170.6,479.7 171.1,479.7 171.6,479.8 172.1,479.8 172.6,479.8 173.1,479.8 173.6,479.9 174.1,479.9 174.6,479.9 175.1,480.0 175.6,480.0 176.1,480.0 176.6,480.0 177.1,480.1 177.6,480.1 178.1,480.1 178.6,480.2 179.1,480.2 179.6,480.3 180.1,480.3 180.6,480.3 181.1,480.4 181.6,480.4 182.1,480.5 182.6,480.5 183.1,480.6 183.6,480.6 184.1,480.7 184.6,480.7 185.1,480.8 185.6,480.9 186.1,480.9 186.6,481.0 187.1,481.1 187.6,481.2 188.1,481.2 188.6,481.3 189.1,481.4 189.6,481.5 190.1,481.6 190.6,481.6 191.1,481.7 191.6,481.8 192.1,481.9 192.6,482.0 193.1,482.1 193.6,482.2 194.1,482.2 194.6,482.3 195.1,482.4 195.6,482.5 196.1,482.6 196.6,482.7 197.1,482.8 197.6,482.9 198.1,482.9 198.6,483.0 199.1,483.1 199.6,483.2 200.1,483.3 200.6,483.4 201.1,483.5 201.6,483.5 202.1,483.6 202.6,483.7 203.1,483.8 203.6,483.9 204.1,484.0 204.6,484.0 205.1,484.1 205.6,484.2 206.1,484.3 206.6,484.4 207.1,484.5 207.6,484.5 208.1,484.6 208.6,484.7 209.1,484.8 209.6,484.9 210.1,484.9 210.6,485.0 211.1,485.1 211.6,485.2 212.1,485.3 212.6,485.4 213.1,485.4 213.6,485.5 214.1,485.6 214.6,485.7 215.1,485.8 215.6,485.8 216.1,485.9 216.6,486.0 217.1,486.1 217.6,486.2 218.1,486.3 218.6,486.3 219.1,486.4 219.6,486.5 220.1,486.6 220.6,486.7 221.1,486.7 221.6,486.8 222.1,486.9 222.6,487.0 223.1,487.1 223.6,487.1 224.1,487.2 224.6,487.3 225.1,487.4 225.6,487.4 226.1,487.5 226.6,487.6 227.1,487.6 227.6,487.7 228.1,487.8 228.6,487.8 229.1,487.9 229.6,488.0 230.1,488.0 230.6,488.1 231.1,488.2 231.6,488.2 232.1,488.3 232.6,488.3 233.1,488.4 233.6,488.5 234.1,488.5 234.6,488.6 235.1,488.6 235.6,488.7 236.1,488.7 236.6,488.8 237.1,488.8 237.6,488.9 238.1,488.9 238.6,489.0 239.1,489.0 239.6,489.1 240.1,489.1 240.6,489.2 241.1,489.2 241.6,489.3 242.1,489.3 242.6,489.4 243.1,489.4 243.6,489.5 244.1,489.5 244.6,489.6 245.1,489.6 245.6,489.7 246.1,489.7 246.6,489.8 247.1,489.8 247.6,489.9 248.1,489.9 248.6,490.0 249.1,490.0 249.6,490.1 250.1,490.1 250.6,490.2 251.1,490.2 251.6,490.3 252.1,490.3 252.6,490.4 253.1,490.4 253.6,490.5 254.1,490.5 254.6,490.6 255.1,490.6 255.6,490.7 256.1,490.7 256.6,490.7 257.1,490.8 257.6,490.8 258.1,490.9 258.6,490.9 259.1,491.0 259.6,491.0 260.1,491.0 260.6,491.1 261.1,491.1 261.6,491.2 262.1,491.2 262.6,491.2 263.1,491.3 263.6,491.3 264.1,491.3 264.6,491.4 265.1,491.4 265.6,491.4 266.1,491.5 266.6,491.5 267.1,491.6 267.6,491.6 268.1,491.6 268.6,491.7 269.1,491.7 269.6,491.7 270.1,491.8 270.6,491.8 271.1,491.8 271.6,491.9 272.1,491.9 272.6,491.9 273.1,492.0 273.6,492.0 274.1,492.0 274.6,492.1 275.1,492.1 275.6,492.1 276.1,492.2 276.6,492.2 277.1,492.2 277.6,492.3 278.1,492.3 278.6,492.4 279.1,492.4 279.6,492.4 280.1,492.5 280.6,492.5 281.1,492.5 281.6,492.6 282.1,492.6 282.6,492.6 283.1,492.7 283.6,492.7 284.1,492.7 284.6,492.8 285.1,492.8 285.6,492.9 286.1,492.9 286.6,492.9 287.1,493.0 287.6,493.0 288.1,493.0 288.6,493.1 289.1,493.1 289.6,493.2 290.1,493.2 290.6,493.2 291.1,493.3 291.6,493.3 292.1,493.3 292.6,493.4 293.1,493.4 293.6,493.5 294.1,493.5 294.6,493.5 295.1,493.6 295.6,493.6 296.1,493.7 296.6,493.7 297.1,493.7 297.6,493.8 298.1,493.8 298.6,493.9 299.1,493.9 299.6,493.9 300.1,494.0 300.6,494.0 301.1,494.1 301.6,494.1 302.1,494.1 302.6,494.2 303.1,494.2 303.6,494.3 304.1,494.3 304.6,494.3 305.1,494.4 305.6,494.4 306.1,494.5 306.6,494.5 307.1,494.5 307.6,494.6 308.1,494.6 308.6,494.7 309.1,494.7 309.6,494.7 310.1,494.8 310.6,494.8 311.1,494.8 311.6,494.9 312.1,494.9 312.6,495.0 313.1,495.0 313.6,495.0 314.1,495.1 314.6,495.1 315.1,495.1 315.6,495.2 316.1,495.2 316.6,495.2 317.1,495.3 317.6,495.3 318.1,495.3 318.6,495.4 319.1,495.4 319.6,495.4 320.1,495.5 320.6,495.5 321.1,495.5 321.6,495.6 322.1,495.6 322.6,495.6 323.1,495.7 323.6,495.7 324.1,495.7 324.6,495.8 325.1,495.8 325.6,495.8 326.1,495.8 326.6,495.9 327.1,495.9 327.6,495.9 328.1,496.0 328.6,496.0 329.1,496.0 329.6,496.1 330.1,496.1 330.6,496.1 331.1,496.2 331.6,496.2 332.1,496.2 332.6,496.2 333.1,496.3 333.6,496.3 334.1,496.3 334.6,496.4 335.1,496.4 335.6,496.4 336.1,496.5 336.6,496.5 337.1,496.5 337.6,496.5 338.1,496.6 338.6,496.6 339.1,496.6 339.6,496.7 340.1,496.7 340.6,496.7 341.1,496.8 341.6,496.8 342.1,496.8 342.6,496.8 343.1,496.9 343.6,496.9 344.1,496.9 344.6,497.0 345.1,497.0 345.6,497.0 346.1,497.0 346.6,497.1 347.1,497.1 347.6,497.1 348.1,497.2 348.6,497.2 349.1,497.2 349.6,497.2 350.1,497.3 350.6,497.3 351.1,497.3 351.6,497.3 352.1,497.4 352.6,497.4 353.1,497.4 353.6,497.4 354.1,497.4 354.6,497.5 355.1,497.5 355.6,497.5 356.1,497.5 356.6,497.5 357.1,497.6 357.6,497.6 358.1,497.6 358.6,497.6 359.1,497.6 359.6,497.7 360.1,497.7 360.6,497.7 361.1,497.7 361.6,497.7 362.1,497.8 362.6,497.8 363.1,497.8 363.6,497.8 364.1,497.8 364.6,497.8 365.1,497.9 365.6,497.9 366.1,497.9 366.6,497.9 367.1,497.9 367.6,498.0 368.1,498.0 368.6,498.0 369.1,498.0 369.6,498.0 370.1,498.1 370.6,498.1 371.1,498.1 371.6,498.1 372.1,498.1 372.6,498.1 373.1,498.2 373.6,498.2 374.1,498.2 374.6,498.2 375.1,498.2 375.6,498.3 376.1,498.3 376.6,498.3 377.1,498.3 377.6,498.3 378.1,498.4 378.6,498.4 379.1,498.4 379.6,498.4 380.1,498.4 380.6,498.5 381.1,498.5 381.6,498.5 382.1,498.5 382.6,498.5 383.1,498.5 383.6,498.6 384.1,498.6 384.6,498.6 385.1,498.6 385.6,498.6 386.1,498.7 386.6,498.7 387.1,498.7 387.6,498.7 388.1,498.7 388.6,498.8 389.1,498.8 389.6,498.8 390.1,498.8 390.6,498.8 391.1,498.8 391.6,498.9 392.1,498.9 392.6,498.9 393.1,498.9 393.6,498.9 394.1,499.0 394.6,499.0 395.1,499.0 395.6,499.0 396.1,499.0 396.6,499.1 397.1,499.1 397.6,499.1 398.1,499.1 398.6,499.1 399.1,499.1 399.6,499.2 400.1,499.2 400.6,499.2 401.1,499.2 401.6,499.2 402.1,499.3 402.6,499.3 403.1,499.3 403.6,499.3 404.1,499.3 404.6,499.4 405.1,499.4 405.6,499.4 406.1,499.4 406.6,499.4 407.1,499.4 407.6,499.5 408.1,499.5 408.6,499.5 409.1,499.5 409.6,499.5 410.1,499.6 410.6,499.6 411.1,499.6 411.6,499.6 412.1,499.6 412.6,499.7 413.1,499.7 413.6,499.7 414.1,499.7 414.6,499.7 415.1,499.7 415.6,499.8 416.1,499.8 416.6,499.8 417.1,499.8 417.6,499.8 418.1,499.9 418.6,499.9 419.1,499.9 419.6,499.9 420.1,499.9 420.6,500.0 421.1,500.0 421.6,500.0 422.1,500.0 422.6,500.0 423.1,500.0 423.6,500.1 424.1,500.1 424.6,500.1 425.1,500.1 425.6,500.1 426.1,500.2 426.6,500.2 427.1,500.2 427.6,500.2 428.1,500.2 428.6,500.3 429.1,500.3 429.6,500.3 430.1,500.3 430.6,500.3 431.1,500.3 431.6,500.4 432.1,500.4 432.6,500.4 433.1,500.4 433.6,500.4 434.1,500.5 434.6,500.5 435.1,500.5 435.6,500.5 436.1,500.5 436.6,500.6 437.1,500.6 437.6,500.6 438.1,500.6 438.6,500.6 439.1,500.7 439.6,500.7 440.1,500.7 440.6,500.7 441.1,500.7 441.6,500.7 442.1,500.8 442.6,500.8 443.1,500.8 443.6,500.8 444.1,500.8 444.6,500.9 445.1,500.9 445.6,500.9 446.1,500.9 446.6,500.9 447.1,501.0 447.6,501.0 448.1,501.0 448.6,501.0 449.1,501.0 449.6,501.0 450.1,501.1 450.6,501.1 451.1,501.1 451.6,501.1 452.1,501.1 452.6,501.2 453.1,501.2 453.6,501.2 454.1,501.2 454.6,501.2 455.1,501.3 455.6,501.3 456.1,501.3 456.6,501.3 457.1,501.3 457.6,501.3 458.1,501.4 458.6,501.4 459.1,501.4 459.6,501.4 460.1,501.4 460.6,501.5 461.1,501.5 461.6,501.5 462.1,501.5 462.6,501.5 463.1,501.6 463.6,501.6 464.1,501.6 464.6,501.6 465.1,501.6 465.6,501.6 466.1,501.7 466.6,501.7 467.1,501.7 467.6,501.7 468.1,501.7 468.6,501.8 469.1,501.8 469.6,501.8 470.1,501.8 470.6,501.8 471.1,501.9 471.6,501.9 472.1,501.9 472.6,501.9 473.1,501.9 473.6,501.9 474.1,502.0 474.6,502.0 475.1,502.0 475.6,502.0 476.1,502.0 476.6,502.1 477.1,502.1 477.6,502.1 478.1,502.1 478.6,502.1 479.1,502.2 479.6,502.2 480.1,502.2 480.6,502.2 481.1,502.2 481.6,502.2 482.1,502.3 482.6,502.3 483.1,502.3 483.6,502.3 484.1,502.3 484.6,502.4 485.1,502.4 485.6,502.4 486.1,502.4 486.6,502.4 487.1,502.5 487.6,502.5 488.1,502.5" fill="none" stroke="#72b43a" stroke-width="2.6" stroke-linejoin="round"/>
<line x1="65.1" y1="410.4" x2="65.1" y2="511.25" stroke="#111" stroke-width="1.45"/>
<line x1="64.44999999999999" y1="510.6" x2="507.5" y2="510.6" stroke="#111" stroke-width="1.45"/>
<line x1="60.49999999999999" y1="415.5" x2="65.1" y2="415.5" stroke="#111" stroke-width="1.45"/>
<text x="33.61" y="419.45" text-anchor="start" font-size="11.6" textLength="22.21" lengthAdjust="spacingAndGlyphs" fill="#231f20" stroke="#231f20" stroke-width="0.25">1.00</text>
<line x1="60.49999999999999" y1="438.15000000000003" x2="65.1" y2="438.15000000000003" stroke="#111" stroke-width="1.45"/>
<text x="34.07" y="442.1" text-anchor="start" font-size="11.6" textLength="21.8" lengthAdjust="spacingAndGlyphs" fill="#231f20" stroke="#231f20" stroke-width="0.25">0.75</text>
<line x1="60.49999999999999" y1="460.8" x2="65.1" y2="460.8" stroke="#111" stroke-width="1.45"/>
<text x="34.07" y="464.75" text-anchor="start" font-size="11.6" textLength="21.74" lengthAdjust="spacingAndGlyphs" fill="#231f20" stroke="#231f20" stroke-width="0.25">0.50</text>
<line x1="60.49999999999999" y1="483.45000000000005" x2="65.1" y2="483.45000000000005" stroke="#111" stroke-width="1.45"/>
<text x="34.07" y="487.4" text-anchor="start" font-size="11.6" textLength="21.8" lengthAdjust="spacingAndGlyphs" fill="#231f20" stroke="#231f20" stroke-width="0.25">0.25</text>
<line x1="60.49999999999999" y1="506.1" x2="65.1" y2="506.1" stroke="#111" stroke-width="1.45"/>
<text x="34.07" y="510.05" text-anchor="start" font-size="11.6" textLength="21.74" lengthAdjust="spacingAndGlyphs" fill="#231f20" stroke="#231f20" stroke-width="0.25">0.00</text>
<line x1="131.5" y1="510.6" x2="131.5" y2="514.9" stroke="#111" stroke-width="1.45"/>
<text x="125.47" y="529.5" text-anchor="start" font-size="11.6" textLength="12.52" lengthAdjust="spacingAndGlyphs" fill="#231f20" stroke="#231f20" stroke-width="0.25">20</text>
<line x1="209.0" y1="510.6" x2="209.0" y2="514.9" stroke="#111" stroke-width="1.45"/>
<text x="203.12" y="529.5" text-anchor="start" font-size="11.6" textLength="12.37" lengthAdjust="spacingAndGlyphs" fill="#231f20" stroke="#231f20" stroke-width="0.25">30</text>
<line x1="286.5" y1="510.6" x2="286.5" y2="514.9" stroke="#111" stroke-width="1.45"/>
<text x="280.81" y="529.5" text-anchor="start" font-size="11.6" textLength="12.16" lengthAdjust="spacingAndGlyphs" fill="#231f20" stroke="#231f20" stroke-width="0.25">40</text>
<line x1="364.0" y1="510.6" x2="364.0" y2="514.9" stroke="#111" stroke-width="1.45"/>
<text x="358.12" y="529.5" text-anchor="start" font-size="11.6" textLength="12.37" lengthAdjust="spacingAndGlyphs" fill="#231f20" stroke="#231f20" stroke-width="0.25">50</text>
<line x1="441.5" y1="510.6" x2="441.5" y2="514.9" stroke="#111" stroke-width="1.45"/>
<text x="435.47" y="529.5" text-anchor="start" font-size="11.6" textLength="12.52" lengthAdjust="spacingAndGlyphs" fill="#231f20" stroke="#231f20" stroke-width="0.25">60</text>
<text x="10.44" y="400.5" text-anchor="start" font-size="16.5" textLength="10.66" lengthAdjust="spacingAndGlyphs" fill="#231f20" stroke="#231f20" stroke-width="0.25">C</text>
<text x="64.96" y="401.8" text-anchor="start" font-size="14.2" textLength="47.13" lengthAdjust="spacingAndGlyphs" fill="#231f20" stroke="#231f20" stroke-width="0.25">Relapse</text>
<text x="112.3" y="397.5" text-anchor="start" font-size="10" textLength="5.58" lengthAdjust="spacingAndGlyphs" fill="#231f20" stroke="#231f20" stroke-width="0.25">c</text>
<text transform="translate(23.0,519.94) rotate(-90)" text-anchor="start" font-size="14.2" textLength="47.02" lengthAdjust="spacingAndGlyphs" fill="#231f20" stroke="#231f20" stroke-width="0.25">Relapse</text>
<text transform="translate(23.0,468.85) rotate(-90)" text-anchor="start" font-size="14.2" textLength="68.38" lengthAdjust="spacingAndGlyphs" fill="#231f20" stroke="#231f20" stroke-width="0.25">probability</text>
<text x="275.78" y="483.6" text-anchor="start" font-size="10.6" textLength="33.71" lengthAdjust="spacingAndGlyphs" fill="#231f20" stroke="#231f20" stroke-width="0.25">p=0.57</text>
<polygon points="88.6,592.9 109.1,614.5 114.5,633.8 116.3,635.2 127.1,655.4 128.5,659.4 129.8,656.7 136.5,675.6 145.9,709.7 147.3,711.8 148.7,712.8 150.0,714.3 151.3,716.0 152.7,715.6 154.1,716.3 155.4,716.9 156.8,718.7 158.1,719.6 159.4,719.3 160.8,717.8 162.1,718.7 163.5,719.0 164.8,720.9 166.2,730.4 167.5,730.1 168.9,727.8 170.2,727.4 171.5,729.0 172.9,732.3 174.2,735.2 175.6,744.2 176.9,741.8 178.3,739.3 179.6,738.2 180.9,740.7 182.3,742.5 183.7,742.8 185.0,745.6 186.3,743.9 187.7,743.9 190.0,737.7 192.1,745.7 193.5,745.0 194.9,744.0 196.3,744.1 197.7,744.3 199.2,746.6 200.6,747.2 202.7,742.9 204.1,744.4 205.5,748.5 206.9,748.7 208.3,747.8 209.8,745.6 211.2,745.0 213.3,756.5 214.9,748.8 216.4,740.8 218.0,745.6 219.6,751.4 221.0,747.4 222.4,742.3 223.8,737.0 225.2,737.6 226.7,738.9 228.1,740.3 229.5,737.7 230.9,735.4 232.3,734.6 233.7,733.3 235.1,732.5 236.5,731.2 237.9,731.0 239.4,731.5 240.8,729.5 242.4,729.3 243.9,728.5 245.2,719.4 246.9,716.2 248.1,717.9 249.2,718.6 250.4,715.1 251.5,712.7 252.7,708.9 254.1,705.8 255.6,702.1 257.3,708.7 258.8,704.8 260.2,702.5 261.6,696.1 263.1,692.6 264.8,693.0 266.2,687.0 267.7,681.9 268.9,681.9 270.0,679.7 271.2,680.1 272.3,682.8 273.5,678.0 274.6,673.4 276.1,669.1 277.5,665.1 278.7,669.0 280.4,663.5 281.5,662.3 282.7,661.2 283.8,659.3 285.0,656.0 286.2,654.3 287.3,652.9 288.5,651.2 289.9,649.2 291.3,645.4 292.5,639.1 293.5,638.9 294.5,637.9 295.5,637.9 296.5,637.7 297.9,634.9 299.4,629.2 300.9,626.8 302.3,623.5 303.8,625.4 305.2,628.7 306.4,626.2 307.5,625.0 308.6,623.5 309.8,622.5 311.0,619.9 312.1,617.0 313.1,615.3 314.1,614.5 315.2,614.4 316.2,614.2 317.3,612.1 318.5,610.8 319.6,611.9 320.8,609.4 321.9,608.9 323.1,608.7 324.6,606.7 326.0,605.0 327.1,607.5 328.8,598.6 330.0,604.0 331.2,602.5 332.3,601.4 333.5,599.8 334.9,598.4 336.3,598.1 337.8,598.0 339.2,598.8 340.4,599.6 341.5,600.8 342.7,599.9 343.8,599.2 345.0,598.5 347.7,595.8 355.4,595.0 360.0,593.5 365.4,590.4 368.5,590.7 373.1,593.2 376.9,590.7 383.1,589.6 389.2,588.8 393.8,587.3 398.5,589.6 404.6,591.2 409.2,591.2 415.4,587.6 420.0,587.5 440.8,588.5 442.5,589.2 475.4,588.8 487.5,590.9 489.2,589.7 506.0,588.0 506.1,851.3 489.2,836.7 475.4,833.3 446.0,828.8 442.5,831.5 441.5,816.0 421.7,828.1 415.8,829.8 410.3,814.2 406.8,831.5 402.7,819.4 394.0,824.6 386.1,828.8 382.6,824.6 380.2,828.1 375.7,817.0 372.2,835.0 370.8,827.4 367.4,834.3 362.9,831.5 359.4,838.5 354.2,838.5 347.3,849.5 340.4,853.3 335.2,848.8 330.0,854.0 329.6,856.2 328.5,855.8 327.3,855.5 326.2,863.1 324.4,859.5 323.3,861.4 321.9,866.5 320.4,871.0 319.2,871.6 318.1,871.9 316.9,872.3 315.8,872.9 314.6,873.4 313.5,872.9 312.3,872.9 311.2,872.9 309.4,874.8 307.7,879.7 306.6,880.9 305.4,883.1 304.2,884.3 303.1,885.7 301.9,887.0 300.8,888.1 299.6,889.8 298.5,891.4 297.3,891.4 296.3,893.7 295.2,894.0 294.2,894.5 292.5,902.2 291.5,900.4 290.5,898.9 289.4,899.1 288.4,898.7 287.3,899.3 286.2,899.7 285.0,905.5 283.3,912.0 282.1,909.6 281.0,907.8 279.6,910.3 278.1,913.7 277.0,917.1 275.8,920.1 274.6,923.4 273.5,926.2 272.4,923.4 271.2,923.1 269.8,925.3 268.3,929.9 267.3,930.9 266.2,931.0 265.2,930.1 264.2,933.3 262.5,940.9 261.5,941.9 260.5,941.9 259.5,942.2 258.5,942.6 257.3,943.9 256.2,946.6 255.0,948.5 253.8,948.8 252.7,950.0 251.5,950.6 250.4,952.9 249.2,955.5 248.1,959.9 246.9,958.9 245.8,958.3 244.6,957.3 243.5,959.4 242.3,961.3 241.2,963.1 240.1,964.2 238.9,965.0 237.8,965.7 236.7,965.4 235.6,966.0 234.4,967.0 233.3,968.1 232.2,967.5 231.1,969.7 229.9,970.0 228.8,971.2 227.7,971.9 226.1,969.4 224.6,968.4 223.4,969.6 222.3,970.4 221.2,970.6 220.0,971.4 218.8,972.2 217.7,972.4 216.6,973.0 215.4,974.0 214.2,974.5 212.9,975.4 211.7,974.3 210.4,976.8 209.2,977.4 207.9,975.6 206.6,977.1 205.3,976.8 204.1,977.0 202.8,975.9 201.5,976.6 200.3,977.3 199.2,978.3 198.1,978.3 196.9,978.7 195.8,979.9 194.6,980.1 193.4,980.0 192.3,979.8 191.2,979.9 190.0,978.0 188.8,980.5 187.7,980.1 186.5,979.7 185.3,980.1 184.1,980.1 183.0,978.9 181.8,979.3 180.6,979.9 179.4,979.2 178.2,979.5 177.0,977.8 175.9,979.6 174.7,979.3 173.5,979.6 172.3,979.8 171.1,980.5 169.9,980.6 168.6,981.1 167.4,981.9 166.2,982.7 165.0,981.4 163.8,980.2 162.7,977.1 161.5,977.1 160.0,979.5 158.5,984.9 157.3,983.3 156.2,982.1 155.0,980.4 153.8,978.8 152.7,979.3 151.5,979.5 150.3,979.1 149.2,980.1 148.1,979.0 146.9,979.9 145.8,980.6 144.6,979.9 143.4,981.7 142.2,982.4 140.9,982.7 139.7,983.6 138.5,983.9 137.3,983.1 136.2,982.1 135.0,981.4 133.8,980.9 132.7,980.8 131.5,982.0 130.3,982.2 129.2,982.0 127.7,981.3 126.2,980.6 125.0,980.7 123.8,981.3 122.6,980.4 121.4,981.2 120.2,981.6 119.0,981.8 117.8,981.4 116.6,982.0 115.4,981.6 113.8,985.0 112.3,987.7 88.6,988.6" fill="#cdc9ca"/>
<line x1="195.0" y1="572.55" x2="195.0" y2="1008.5" stroke="#000" stroke-width="1.5" stroke-dasharray="1.45 2.0"/>
<line x1="67.76" y1="893.7" x2="508" y2="893.7" stroke="#000" stroke-width="1.5" stroke-dasharray="1.45 2.0"/>
<path d="M104.9,857.3H119.7M112.3,849.9V864.7M107.1,852.1L117.5,862.5M107.1,862.5L117.5,852.1" stroke="#c8857a" stroke-width="0.9" fill="none" opacity="0.9"/>
<path d="M129.5,873.5H144.3M136.9,866.1V880.9M131.7,868.3L142.1,878.7M131.7,878.7L142.1,868.3" stroke="#c8857a" stroke-width="0.9" fill="none" opacity="0.9"/>
<path d="M148.0,882.7H162.8M155.4,875.3V890.1M150.2,877.5L160.6,887.9M150.2,887.9L160.6,877.5" stroke="#c8857a" stroke-width="0.9" fill="none" opacity="0.9"/>
<path d="M195.1,892.5H209.9M202.5,885.1V899.9M197.3,887.3L207.7,897.7M197.3,897.7L207.7,887.3" stroke="#c8857a" stroke-width="0.9" fill="none" opacity="0.9"/>
<path d="M199.6,890.0H214.4M207.0,882.6V897.4M201.8,884.8L212.2,895.2M201.8,895.2L212.2,884.8" stroke="#c8857a" stroke-width="0.9" fill="none" opacity="0.9"/>
<path d="M216.6,886.0H231.4M224.0,878.6V893.4M218.8,880.8L229.2,891.2M218.8,891.2L229.2,880.8" stroke="#c8857a" stroke-width="0.9" fill="none" opacity="0.9"/>
<path d="M221.6,882.0H236.4M229.0,874.6V889.4M223.8,876.8L234.2,887.2M223.8,887.2L234.2,876.8" stroke="#c8857a" stroke-width="0.9" fill="none" opacity="0.9"/>
<path d="M225.6,879.0H240.4M233.0,871.6V886.4M227.8,873.8L238.2,884.2M227.8,884.2L238.2,873.8" stroke="#c8857a" stroke-width="0.9" fill="none" opacity="0.9"/>
<path d="M229.6,876.0H244.4M237.0,868.6V883.4M231.8,870.8L242.2,881.2M231.8,881.2L242.2,870.8" stroke="#c8857a" stroke-width="0.9" fill="none" opacity="0.9"/>
<path d="M235.3,865.6H250.1M242.7,858.2V873.0M237.5,860.4L247.9,870.8M237.5,870.8L247.9,860.4" stroke="#c8857a" stroke-width="0.9" fill="none" opacity="0.9"/>
<path d="M249.1,844.2H263.9M256.5,836.8V851.6M251.3,839.0L261.7,849.4M251.3,849.4L261.7,839.0" stroke="#c8857a" stroke-width="0.9" fill="none" opacity="0.9"/>
<path d="M251.4,839.6H266.2M258.8,832.2V847.0M253.6,834.4L264.0,844.8M253.6,844.8L264.0,834.4" stroke="#c8857a" stroke-width="0.9" fill="none" opacity="0.9"/>
<path d="M253.8,837.3H268.6M261.2,829.9V844.7M256.0,832.1L266.4,842.5M256.0,842.5L266.4,832.1" stroke="#c8857a" stroke-width="0.9" fill="none" opacity="0.9"/>
<path d="M256.1,833.3H270.9M263.5,825.9V840.7M258.3,828.1L268.7,838.5M258.3,838.5L268.7,828.1" stroke="#c8857a" stroke-width="0.9" fill="none" opacity="0.9"/>
<path d="M267.6,808.5H282.4M275.0,801.1V815.9M269.8,803.3L280.2,813.7M269.8,813.7L280.2,803.3" stroke="#c8857a" stroke-width="0.9" fill="none" opacity="0.9"/>
<path d="M273.4,796.9H288.2M280.8,789.5V804.3M275.6,791.7L286.0,802.1M275.6,802.1L286.0,791.7" stroke="#c8857a" stroke-width="0.9" fill="none" opacity="0.9"/>
<path d="M278.6,786.5H293.4M286.0,779.1V793.9M280.8,781.3L291.2,791.7M280.8,791.7L291.2,781.3" stroke="#c8857a" stroke-width="0.9" fill="none" opacity="0.9"/>
<path d="M283.8,774.4H298.6M291.2,767.0V781.8M286.0,769.2L296.4,779.6M286.0,779.6L296.4,769.2" stroke="#c8857a" stroke-width="0.9" fill="none" opacity="0.9"/>
<path d="M284.6,777.0H299.4M292.0,769.6V784.4M286.8,771.8L297.2,782.2M286.8,782.2L297.2,771.8" stroke="#c8857a" stroke-width="0.9" fill="none" opacity="0.9"/>
<path d="M289.8,765.0H304.6M297.2,757.6V772.4M292.0,759.8L302.4,770.2M292.0,770.2L302.4,759.8" stroke="#c8857a" stroke-width="0.9" fill="none" opacity="0.9"/>
<path d="M302.8,742.4H317.6M310.2,735.0V749.8M305.0,737.2L315.4,747.6M305.0,747.6L315.4,737.2" stroke="#c8857a" stroke-width="0.9" fill="none" opacity="0.9"/>
<path d="M314.0,726.0H328.8M321.4,718.6V733.4M316.2,720.8L326.6,731.2M316.2,731.2L326.6,720.8" stroke="#c8857a" stroke-width="0.9" fill="none" opacity="0.9"/>
<path d="M318.4,720.8H333.2M325.8,713.4V728.2M320.6,715.6L331.0,726.0M320.6,726.0L331.0,715.6" stroke="#c8857a" stroke-width="0.9" fill="none" opacity="0.9"/>
<path d="M321.0,719.0H335.8M328.4,711.6V726.4M323.2,713.8L333.6,724.2M323.2,724.2L333.6,713.8" stroke="#c8857a" stroke-width="0.9" fill="none" opacity="0.9"/>
<path d="M327.6,709.5H342.4M335.0,702.1V716.9M329.8,704.3L340.2,714.7M329.8,714.7L340.2,704.3" stroke="#c8857a" stroke-width="0.9" fill="none" opacity="0.9"/>
<path d="M328.8,709.5H343.6M336.2,702.1V716.9M331.0,704.3L341.4,714.7M331.0,714.7L341.4,704.3" stroke="#c8857a" stroke-width="0.9" fill="none" opacity="0.9"/>
<path d="M351.4,691.2H366.1M358.8,683.9V698.6M353.5,686.0L364.0,696.5M353.5,696.5L364.0,686.0" stroke="#c8857a" stroke-width="0.9" fill="none" opacity="0.9"/>
<path d="M356.4,688.8H371.1M363.8,681.4V696.1M358.5,683.5L369.0,694.0M358.5,694.0L369.0,683.5" stroke="#c8857a" stroke-width="0.9" fill="none" opacity="0.9"/>
<path d="M364.1,685.0H378.9M371.5,677.6V692.4M366.3,679.8L376.7,690.2M366.3,690.2L376.7,679.8" stroke="#c8857a" stroke-width="0.9" fill="none" opacity="0.9"/>
<path d="M378.2,681.4H393.0M385.6,674.0V688.8M380.4,676.2L390.8,686.6M380.4,686.6L390.8,676.2" stroke="#c8857a" stroke-width="0.9" fill="none" opacity="0.9"/>
<path d="M394.6,679.7H409.4M402.0,672.3V687.1M396.8,674.5L407.2,684.9M396.8,684.9L407.2,674.5" stroke="#c8857a" stroke-width="0.9" fill="none" opacity="0.9"/>
<path d="M398.9,679.7H413.7M406.3,672.3V687.1M401.1,674.5L411.5,684.9M401.1,684.9L411.5,674.5" stroke="#c8857a" stroke-width="0.9" fill="none" opacity="0.9"/>
<path d="M403.3,679.7H418.1M410.7,672.3V687.1M405.5,674.5L415.9,684.9M405.5,684.9L415.9,674.5" stroke="#c8857a" stroke-width="0.9" fill="none" opacity="0.9"/>
<path d="M407.6,680.2H422.4M415.0,672.8V687.6M409.8,675.0L420.2,685.4M409.8,685.4L420.2,675.0" stroke="#c8857a" stroke-width="0.9" fill="none" opacity="0.9"/>
<path d="M412.8,680.2H427.6M420.2,672.8V687.6M415.0,675.0L425.4,685.4M415.0,685.4L425.4,675.0" stroke="#c8857a" stroke-width="0.9" fill="none" opacity="0.9"/>
<path d="M417.1,680.2H431.9M424.5,672.8V687.6M419.3,675.0L429.7,685.4M419.3,685.4L429.7,675.0" stroke="#c8857a" stroke-width="0.9" fill="none" opacity="0.9"/>
<path d="M438.8,682.3H453.6M446.2,674.9V689.7M441.0,677.1L451.4,687.5M441.0,687.5L451.4,677.1" stroke="#c8857a" stroke-width="0.9" fill="none" opacity="0.9"/>
<path d="M468.0,685.4H482.8M475.4,678.0V692.8M470.2,680.2L480.6,690.6M470.2,690.6L480.6,680.2" stroke="#c8857a" stroke-width="0.9" fill="none" opacity="0.9"/>
<path d="M114.2,851.9L120.7,862.9L107.7,862.9Z" stroke="#7a95d2" stroke-width="0.85" fill="none"/>
<path d="M124.5,858.6L130.8,869.2L118.2,869.2Z" stroke="#7a95d2" stroke-width="0.85" fill="none"/>
<path d="M133.9,865.5L139.4,874.7L128.4,874.7Z" stroke="#7a95d2" stroke-width="0.85" fill="none"/>
<path d="M144.6,870.8L150.8,881.1L138.4,881.1Z" stroke="#7a95d2" stroke-width="0.85" fill="none"/>
<path d="M161.2,880.7L165.5,887.9L156.9,887.9Z" stroke="#5dab4f" stroke-width="0.85" fill="none"/>
<path d="M168.5,883.7L172.8,890.9L164.2,890.9Z" stroke="#5dab4f" stroke-width="0.85" fill="none"/>
<path d="M174.0,884.7L178.3,891.9L169.7,891.9Z" stroke="#5dab4f" stroke-width="0.85" fill="none"/>
<path d="M178.0,886.2L182.3,893.4L173.7,893.4Z" stroke="#5dab4f" stroke-width="0.85" fill="none"/>
<path d="M181.5,884.7L185.8,891.9L177.2,891.9Z" stroke="#5dab4f" stroke-width="0.85" fill="none"/>
<path d="M191.5,885.2L197.8,895.7L185.2,895.7Z" stroke="#7a95d2" stroke-width="0.85" fill="none"/>
<path d="M200.8,885.7L205.1,892.9L196.5,892.9Z" stroke="#5dab4f" stroke-width="0.85" fill="none"/>
<path d="M212.3,884.9L216.6,892.1L208.0,892.1Z" stroke="#5dab4f" stroke-width="0.85" fill="none"/>
<path d="M221.0,879.7L226.8,889.4L215.2,889.4Z" stroke="#7a95d2" stroke-width="0.85" fill="none"/>
<path d="M225.5,877.0L231.0,886.2L220.0,886.2Z" stroke="#7a95d2" stroke-width="0.85" fill="none"/>
<path d="M229.0,874.7L234.2,883.5L223.8,883.5Z" stroke="#7a95d2" stroke-width="0.85" fill="none"/>
<path d="M247.3,859.5L251.6,866.7L243.0,866.7Z" stroke="#5dab4f" stroke-width="0.85" fill="none"/>
<path d="M250.2,851.1L256.6,861.8L243.8,861.8Z" stroke="#7a95d2" stroke-width="0.85" fill="none"/>
<path d="M256.5,843.4L260.8,850.6L252.2,850.6Z" stroke="#5dab4f" stroke-width="0.85" fill="none"/>
<path d="M264.6,826.1L268.9,833.3L260.3,833.3Z" stroke="#5dab4f" stroke-width="0.85" fill="none"/>
<path d="M266.0,821.7L270.3,828.9L261.7,828.9Z" stroke="#5dab4f" stroke-width="0.85" fill="none"/>
<path d="M271.5,812.8L275.8,820.0L267.2,820.0Z" stroke="#5dab4f" stroke-width="0.85" fill="none"/>
<path d="M273.8,809.4L278.1,816.6L269.5,816.6Z" stroke="#5dab4f" stroke-width="0.85" fill="none"/>
<path d="M279.6,796.1L283.9,803.3L275.3,803.3Z" stroke="#5dab4f" stroke-width="0.85" fill="none"/>
<path d="M285.5,785.2L289.8,792.4L281.2,792.4Z" stroke="#5dab4f" stroke-width="0.85" fill="none"/>
<path d="M345.5,694.8L350.1,702.5L340.9,702.5Z" stroke="#5dab4f" stroke-width="0.85" fill="none"/>
<path d="M349.0,692.2L353.6,699.9L344.4,699.9Z" stroke="#5dab4f" stroke-width="0.85" fill="none"/>
<path d="M375.2,678.5L379.5,685.7L370.9,685.7Z" stroke="#5dab4f" stroke-width="0.85" fill="none"/>
<path d="M380.4,677.1L384.7,684.3L376.1,684.3Z" stroke="#5dab4f" stroke-width="0.85" fill="none"/>
<path d="M85.8,837.5L90.8,842.5M85.8,842.5L90.8,837.5" stroke="#262626" stroke-width="1.0" fill="none"/>
<path d="M106.7,853.3L111.7,858.3M106.7,858.3L111.7,853.3" stroke="#262626" stroke-width="1.0" fill="none"/>
<path d="M112.9,857.5L117.9,862.5M112.9,862.5L117.9,857.5" stroke="#262626" stroke-width="1.0" fill="none"/>
<path d="M126.0,865.9L131.0,870.9M126.0,870.9L131.0,865.9" stroke="#262626" stroke-width="1.0" fill="none"/>
<path d="M138.3,873.3L143.3,878.3M138.3,878.3L143.3,873.3" stroke="#262626" stroke-width="1.0" fill="none"/>
<path d="M147.5,878.7L152.5,883.7M147.5,883.7L152.5,878.7" stroke="#262626" stroke-width="1.0" fill="none"/>
<path d="M155.2,881.7L160.2,886.7M155.2,886.7L160.2,881.7" stroke="#262626" stroke-width="1.0" fill="none"/>
<path d="M162.1,884.3L167.1,889.3M162.1,889.3L167.1,884.3" stroke="#262626" stroke-width="1.0" fill="none"/>
<path d="M166.7,886.3L171.7,891.3M166.7,891.3L171.7,886.3" stroke="#262626" stroke-width="1.0" fill="none"/>
<path d="M171.3,887.9L176.3,892.9M171.3,892.9L176.3,887.9" stroke="#262626" stroke-width="1.0" fill="none"/>
<path d="M174.4,888.3L179.4,893.3M174.4,893.3L179.4,888.3" stroke="#262626" stroke-width="1.0" fill="none"/>
<path d="M177.5,889.5L182.5,894.5M177.5,894.5L182.5,889.5" stroke="#262626" stroke-width="1.0" fill="none"/>
<path d="M180.5,890.0L185.5,895.0M180.5,895.0L185.5,890.0" stroke="#262626" stroke-width="1.0" fill="none"/>
<path d="M183.5,890.5L188.5,895.5M183.5,895.5L188.5,890.5" stroke="#262626" stroke-width="1.0" fill="none"/>
<path d="M186.5,890.8L191.5,895.8M186.5,895.8L191.5,890.8" stroke="#262626" stroke-width="1.0" fill="none"/>
<path d="M190.5,891.0L195.5,896.0M190.5,896.0L195.5,891.0" stroke="#262626" stroke-width="1.0" fill="none"/>
<path d="M193.5,891.1L198.5,896.1M193.5,896.1L198.5,891.1" stroke="#262626" stroke-width="1.0" fill="none"/>
<path d="M196.5,891.0L201.5,896.0M196.5,896.0L201.5,891.0" stroke="#262626" stroke-width="1.0" fill="none"/>
<path d="M199.5,890.9L204.5,895.9M199.5,895.9L204.5,890.9" stroke="#262626" stroke-width="1.0" fill="none"/>
<path d="M202.5,890.5L207.5,895.5M202.5,895.5L207.5,890.5" stroke="#262626" stroke-width="1.0" fill="none"/>
<path d="M206.5,890.0L211.5,895.0M206.5,895.0L211.5,890.0" stroke="#262626" stroke-width="1.0" fill="none"/>
<path d="M209.5,889.0L214.5,894.0M209.5,894.0L214.5,889.0" stroke="#262626" stroke-width="1.0" fill="none"/>
<path d="M213.5,886.5L218.5,891.5M213.5,891.5L218.5,886.5" stroke="#262626" stroke-width="1.0" fill="none"/>
<path d="M216.5,885.0L221.5,890.0M216.5,890.0L221.5,885.0" stroke="#262626" stroke-width="1.0" fill="none"/>
<path d="M219.5,883.0L224.5,888.0M219.5,888.0L224.5,883.0" stroke="#262626" stroke-width="1.0" fill="none"/>
<path d="M222.5,881.0L227.5,886.0M222.5,886.0L227.5,881.0" stroke="#262626" stroke-width="1.0" fill="none"/>
<path d="M225.5,879.0L230.5,884.0M225.5,884.0L230.5,879.0" stroke="#262626" stroke-width="1.0" fill="none"/>
<path d="M228.5,876.5L233.5,881.5M228.5,881.5L233.5,876.5" stroke="#262626" stroke-width="1.0" fill="none"/>
<path d="M231.5,874.5L236.5,879.5M231.5,879.5L236.5,874.5" stroke="#262626" stroke-width="1.0" fill="none"/>
<path d="M234.5,872.0L239.5,877.0M234.5,877.0L239.5,872.0" stroke="#262626" stroke-width="1.0" fill="none"/>
<path d="M237.5,868.5L242.5,873.5M237.5,873.5L242.5,868.5" stroke="#262626" stroke-width="1.0" fill="none"/>
<path d="M246.5,855.5L251.5,860.5M246.5,860.5L251.5,855.5" stroke="#262626" stroke-width="1.0" fill="none"/>
<path d="M250.0,850.4L255.0,855.4M250.0,855.4L255.0,850.4" stroke="#262626" stroke-width="1.0" fill="none"/>
<path d="M255.2,841.2L260.2,846.2M255.2,846.2L260.2,841.2" stroke="#262626" stroke-width="1.0" fill="none"/>
<path d="M258.1,837.1L263.1,842.1M258.1,842.1L263.1,837.1" stroke="#262626" stroke-width="1.0" fill="none"/>
<path d="M260.4,832.5L265.4,837.5M260.4,837.5L265.4,832.5" stroke="#262626" stroke-width="1.0" fill="none"/>
<path d="M265.6,820.4L270.6,825.4M265.6,825.4L270.6,820.4" stroke="#262626" stroke-width="1.0" fill="none"/>
<path d="M266.7,818.7L271.7,823.7M266.7,823.7L271.7,818.7" stroke="#262626" stroke-width="1.0" fill="none"/>
<path d="M274.8,802.5L279.8,807.5M274.8,807.5L279.8,802.5" stroke="#262626" stroke-width="1.0" fill="none"/>
<path d="M276.5,800.2L281.5,805.2M276.5,805.2L281.5,800.2" stroke="#262626" stroke-width="1.0" fill="none"/>
<path d="M281.2,789.2L286.2,794.2M281.2,794.2L286.2,789.2" stroke="#262626" stroke-width="1.0" fill="none"/>
<path d="M286.5,777.5L291.5,782.5M286.5,782.5L291.5,777.5" stroke="#262626" stroke-width="1.0" fill="none"/>
<path d="M292.0,767.5L297.0,772.5M292.0,772.5L297.0,767.5" stroke="#262626" stroke-width="1.0" fill="none"/>
<path d="M294.7,762.5L299.7,767.5M294.7,767.5L299.7,762.5" stroke="#262626" stroke-width="1.0" fill="none"/>
<path d="M300.0,753.1L305.0,758.1M300.0,758.1L305.0,753.1" stroke="#262626" stroke-width="1.0" fill="none"/>
<path d="M302.9,748.8L307.9,753.8M302.9,753.8L307.9,748.8" stroke="#262626" stroke-width="1.0" fill="none"/>
<path d="M306.7,742.0L311.7,747.0M306.7,747.0L311.7,742.0" stroke="#262626" stroke-width="1.0" fill="none"/>
<path d="M312.5,733.4L317.5,738.4M312.5,738.4L317.5,733.4" stroke="#262626" stroke-width="1.0" fill="none"/>
<path d="M316.3,727.6L321.3,732.6M316.3,732.6L321.3,727.6" stroke="#262626" stroke-width="1.0" fill="none"/>
<path d="M327.6,713.9L332.6,718.9M327.6,718.9L332.6,713.9" stroke="#262626" stroke-width="1.0" fill="none"/>
<path d="M330.5,710.5L335.5,715.5M330.5,715.5L335.5,710.5" stroke="#262626" stroke-width="1.0" fill="none"/>
<path d="M337.5,703.0L342.5,708.0M337.5,708.0L342.5,703.0" stroke="#262626" stroke-width="1.0" fill="none"/>
<path d="M350.5,692.5L355.5,697.5M350.5,697.5L355.5,692.5" stroke="#262626" stroke-width="1.0" fill="none"/>
<path d="M366.2,684.5L371.2,689.5M366.2,689.5L371.2,684.5" stroke="#262626" stroke-width="1.0" fill="none"/>
<path d="M371.2,682.5L376.2,687.5M371.2,687.5L376.2,682.5" stroke="#262626" stroke-width="1.0" fill="none"/>
<path d="M375.3,680.7L380.3,685.7M375.3,685.7L380.3,680.7" stroke="#262626" stroke-width="1.0" fill="none"/>
<path d="M390.9,678.1L395.9,683.1M390.9,683.1L395.9,678.1" stroke="#262626" stroke-width="1.0" fill="none"/>
<path d="M415.9,677.4L420.9,682.4M415.9,682.4L420.9,677.4" stroke="#262626" stroke-width="1.0" fill="none"/>
<path d="M438.5,679.3L443.5,684.3M438.5,684.3L443.5,679.3" stroke="#262626" stroke-width="1.0" fill="none"/>
<path d="M486.0,684.4L491.0,689.4M486.0,689.4L491.0,684.4" stroke="#262626" stroke-width="1.0" fill="none"/>
<line x1="65.1" y1="573" x2="65.1" y2="1009.9499999999999" stroke="#111" stroke-width="1.45"/>
<line x1="64.44999999999999" y1="1009.3" x2="508" y2="1009.3" stroke="#111" stroke-width="1.45"/>
<line x1="60.49999999999999" y1="577.8" x2="65.1" y2="577.8" stroke="#111" stroke-width="1.45"/>
<text x="33.61" y="581.75" text-anchor="start" font-size="11.6" textLength="22.21" lengthAdjust="spacingAndGlyphs" fill="#231f20" stroke="#231f20" stroke-width="0.25">1.00</text>
<line x1="60.49999999999999" y1="702.525" x2="65.1" y2="702.525" stroke="#111" stroke-width="1.45"/>
<text x="34.07" y="706.48" text-anchor="start" font-size="11.6" textLength="21.8" lengthAdjust="spacingAndGlyphs" fill="#231f20" stroke="#231f20" stroke-width="0.25">0.75</text>
<line x1="60.49999999999999" y1="827.25" x2="65.1" y2="827.25" stroke="#111" stroke-width="1.45"/>
<text x="34.07" y="831.2" text-anchor="start" font-size="11.6" textLength="21.74" lengthAdjust="spacingAndGlyphs" fill="#231f20" stroke="#231f20" stroke-width="0.25">0.50</text>
<line x1="60.49999999999999" y1="951.9749999999999" x2="65.1" y2="951.9749999999999" stroke="#111" stroke-width="1.45"/>
<text x="34.07" y="955.92" text-anchor="start" font-size="11.6" textLength="21.8" lengthAdjust="spacingAndGlyphs" fill="#231f20" stroke="#231f20" stroke-width="0.25">0.25</text>
<line x1="82.5" y1="1009.3" x2="82.5" y2="1013.5999999999999" stroke="#111" stroke-width="1.45"/>
<text x="76.15" y="1028.6" text-anchor="start" font-size="11.6" textLength="12.85" lengthAdjust="spacingAndGlyphs" fill="#231f20" stroke="#231f20" stroke-width="0.25">10</text>
<line x1="197.8" y1="1009.3" x2="197.8" y2="1013.5999999999999" stroke="#111" stroke-width="1.45"/>
<text x="191.77" y="1028.6" text-anchor="start" font-size="11.6" textLength="12.52" lengthAdjust="spacingAndGlyphs" fill="#231f20" stroke="#231f20" stroke-width="0.25">20</text>
<line x1="313.1" y1="1009.3" x2="313.1" y2="1013.5999999999999" stroke="#111" stroke-width="1.45"/>
<text x="307.22" y="1028.6" text-anchor="start" font-size="11.6" textLength="12.37" lengthAdjust="spacingAndGlyphs" fill="#231f20" stroke="#231f20" stroke-width="0.25">30</text>
<line x1="428.4" y1="1009.3" x2="428.4" y2="1013.5999999999999" stroke="#111" stroke-width="1.45"/>
<text x="422.71" y="1028.6" text-anchor="start" font-size="11.6" textLength="12.16" lengthAdjust="spacingAndGlyphs" fill="#231f20" stroke="#231f20" stroke-width="0.25">40</text>
<text x="10.37" y="563.9" text-anchor="start" font-size="16.5" textLength="12.65" lengthAdjust="spacingAndGlyphs" fill="#231f20" stroke="#231f20" stroke-width="0.25">D</text>
<text x="64.88" y="564.6" text-anchor="start" font-size="14.2" textLength="115.37" lengthAdjust="spacingAndGlyphs" fill="#231f20" stroke="#231f20" stroke-width="0.25">Event-free-survival</text>
<text transform="translate(22.6,864.4) rotate(-90)" text-anchor="start" font-size="14.2" textLength="34.52" lengthAdjust="spacingAndGlyphs" fill="#231f20" stroke="#231f20" stroke-width="0.25">2-year</text>
<text transform="translate(22.6,825.13) rotate(-90)" text-anchor="start" font-size="14.2" textLength="36.42" lengthAdjust="spacingAndGlyphs" fill="#231f20" stroke="#231f20" stroke-width="0.25">event</text>
<text transform="translate(22.6,785.53) rotate(-90)" text-anchor="start" font-size="14.2" textLength="67.16" lengthAdjust="spacingAndGlyphs" fill="#231f20" stroke="#231f20" stroke-width="0.25">probability</text>
<text x="198.32" y="597.2" text-anchor="start" font-size="12.8" textLength="36.95" lengthAdjust="spacingAndGlyphs" fill="#231f20" stroke="#231f20" stroke-width="0.25">Target:</text>
<text x="237.34" y="597.2" text-anchor="start" font-size="12.8" textLength="60.63" lengthAdjust="spacingAndGlyphs" fill="#231f20" stroke="#231f20" stroke-width="0.25">FluAUC=20</text>
<text x="302.23" y="597.2" text-anchor="start" font-size="12.8" textLength="41.49" lengthAdjust="spacingAndGlyphs" fill="#231f20" stroke="#231f20" stroke-width="0.25">mg*h/L</text>
<text x="316.83" y="670.6" text-anchor="start" font-size="12.8" textLength="30.35" lengthAdjust="spacingAndGlyphs" fill="#231f20" stroke="#231f20" stroke-width="0.25">Event</text>
<text x="350.12" y="670.6" text-anchor="start" font-size="12.8" textLength="63.97" lengthAdjust="spacingAndGlyphs" fill="#231f20" stroke="#231f20" stroke-width="0.25">probability:</text>
<text x="415.99" y="670.6" text-anchor="start" font-size="12.8" textLength="13.21" lengthAdjust="spacingAndGlyphs" fill="#231f20" stroke="#231f20" stroke-width="0.25">80</text>
<text x="432.5" y="670.6" text-anchor="start" font-size="12.8" textLength="10.13" lengthAdjust="spacingAndGlyphs" fill="#231f20" stroke="#231f20" stroke-width="0.25">%</text>
<text x="255.93" y="888.2" text-anchor="start" font-size="12.8" textLength="30.35" lengthAdjust="spacingAndGlyphs" fill="#231f20" stroke="#231f20" stroke-width="0.25">Event</text>
<text x="289.22" y="888.2" text-anchor="start" font-size="12.8" textLength="63.86" lengthAdjust="spacingAndGlyphs" fill="#231f20" stroke="#231f20" stroke-width="0.25">probability:</text>
<text x="355.24" y="888.2" text-anchor="start" font-size="12.8" textLength="13.09" lengthAdjust="spacingAndGlyphs" fill="#231f20" stroke="#231f20" stroke-width="0.25">37</text>
<text x="371.7" y="888.2" text-anchor="start" font-size="12.8" textLength="10.02" lengthAdjust="spacingAndGlyphs" fill="#231f20" stroke="#231f20" stroke-width="0.25">%</text>
<rect x="354" y="936" width="14.8" height="61.4" fill="#f1efef"/>
<path d="M358.5,940.6L363.9,946.0M358.5,946.0L363.9,940.6" stroke="#222" stroke-width="1.0" fill="none"/>
<path d="M361.3,950.9L368.5,963.0L354.1,963.0Z" stroke="#7a95d2" stroke-width="0.95" fill="none"/>
<path d="M354.1,974.2H368.7M361.4,966.9V981.5M356.2,969.0L366.6,979.4M356.2,979.4L366.6,969.0" stroke="#e0877d" stroke-width="1.0" fill="none" opacity="0.9"/>
<path d="M361.4,984.7L366.0,992.5L356.8,992.5Z" stroke="#5dab4f" stroke-width="0.95" fill="none"/>
<text x="373.23" y="947.1" text-anchor="start" font-size="11.3" textLength="45.97" lengthAdjust="spacingAndGlyphs" fill="#231f20" stroke="#231f20" stroke-width="0.25">Censored</text>
<text x="373.22" y="962.75" text-anchor="start" font-size="11.3" textLength="57.0" lengthAdjust="spacingAndGlyphs" fill="#231f20" stroke="#231f20" stroke-width="0.25">Graft failure</text>
<text x="372.85" y="978.75" text-anchor="start" font-size="11.3" textLength="24.28" lengthAdjust="spacingAndGlyphs" fill="#231f20" stroke="#231f20" stroke-width="0.25">NRM</text>
<text x="372.87" y="994.4" text-anchor="start" font-size="11.3" textLength="38.19" lengthAdjust="spacingAndGlyphs" fill="#231f20" stroke="#231f20" stroke-width="0.25">Relapse</text>
<text x="157.01" y="1049.5" text-anchor="start" font-size="14.2" textLength="70.52" lengthAdjust="spacingAndGlyphs" fill="#231f20" stroke="#231f20" stroke-width="0.25">Cumulative</text>
<text x="230.6" y="1049.5" text-anchor="start" font-size="14.2" textLength="70.87" lengthAdjust="spacingAndGlyphs" fill="#231f20" stroke="#231f20" stroke-width="0.25">fludarabine</text>
<text x="305.06" y="1049.5" text-anchor="start" font-size="14.2" textLength="25.29" lengthAdjust="spacingAndGlyphs" fill="#231f20" stroke="#231f20" stroke-width="0.25">AUC</text>
<text x="331.35" y="1052.4" text-anchor="start" font-size="10.4" textLength="25.64" lengthAdjust="spacingAndGlyphs" fill="#231f20" stroke="#231f20" stroke-width="0.25">T0–∞</text>
<text x="360.28" y="1049.5" text-anchor="start" font-size="14.2" textLength="55.74" lengthAdjust="spacingAndGlyphs" fill="#231f20" stroke="#231f20" stroke-width="0.25">(mg*h/L)</text>
<rect x="0.75" y="1.5" width="517.9" height="1062.7" fill="none" stroke="#000" stroke-width="1.5"/>
<line x1="0" y1="0.5" x2="520" y2="0.5" stroke="#888" stroke-width="1"/>
<line x1="519.5" y1="0" x2="519.5" y2="1065" stroke="#888" stroke-width="1"/>
</svg>
</body></html>
